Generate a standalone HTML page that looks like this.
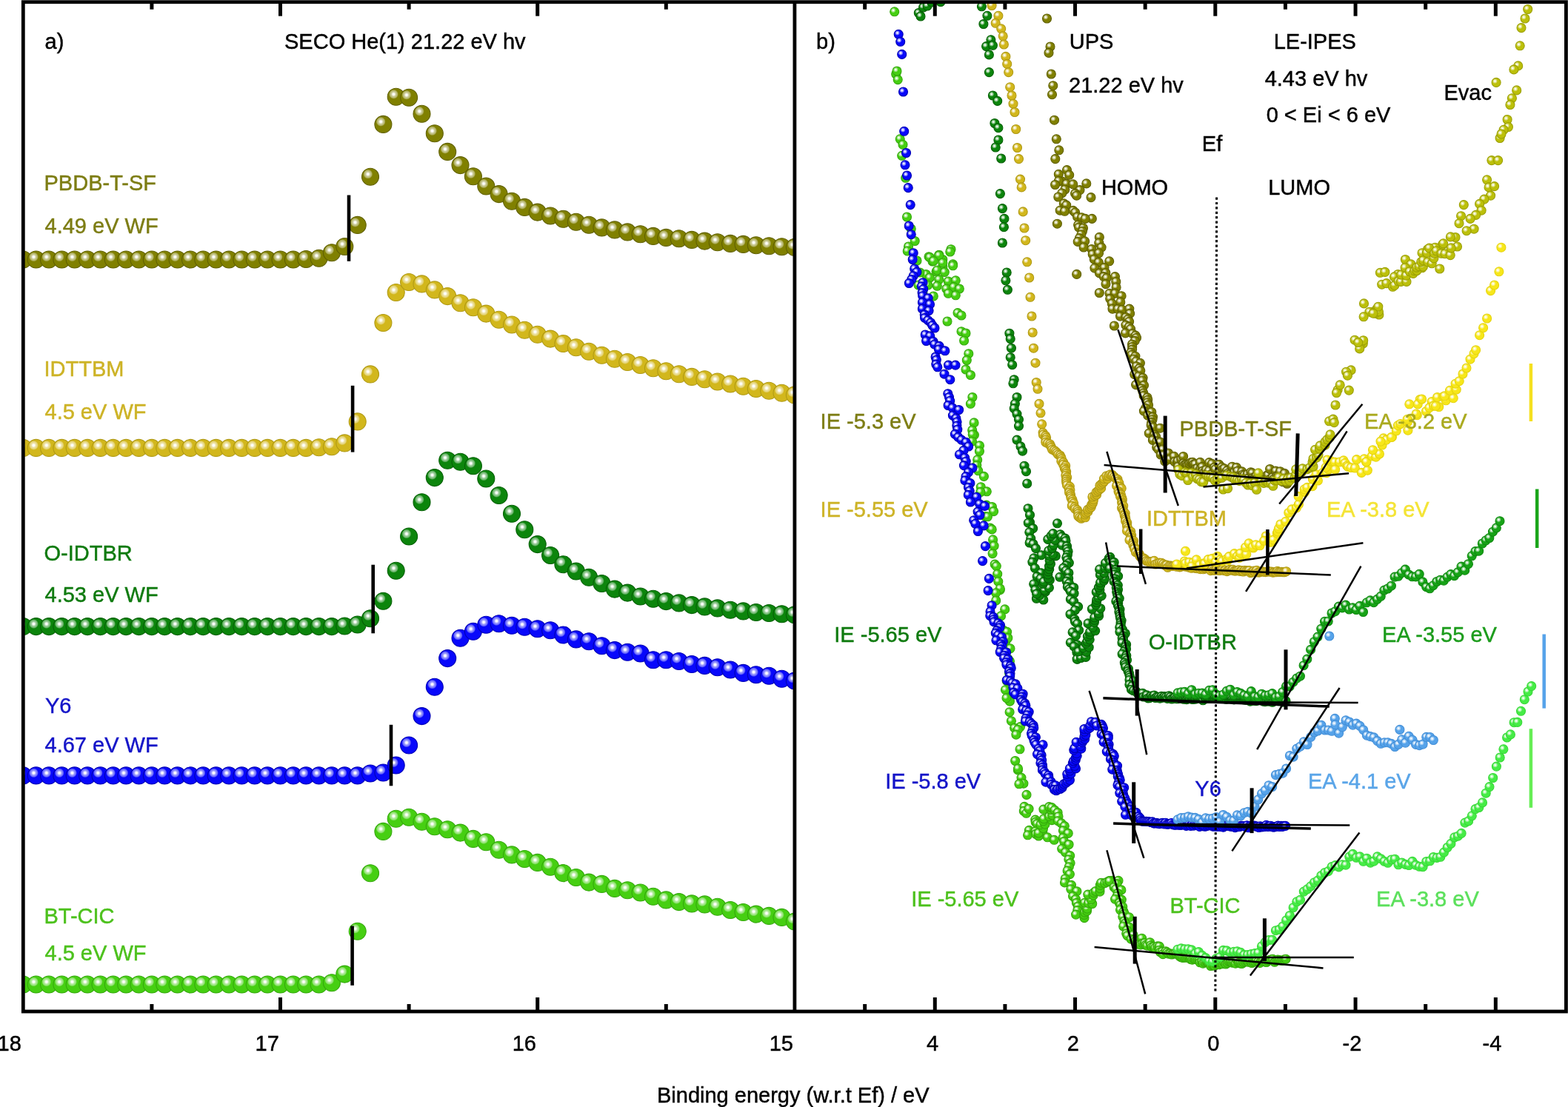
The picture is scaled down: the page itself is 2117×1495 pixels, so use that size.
<!DOCTYPE html><html><head><meta charset="utf-8"><title>SECO, UPS and LE-IPES spectra</title><style>html,body{margin:0;padding:0;background:#fff}svg{display:block}</style></head><body><svg width="2117" height="1495" viewBox="0 0 2117 1495" font-family="'Liberation Sans', sans-serif" font-size="29"><defs><radialGradient id="go1" cx="0.36" cy="0.345" r="0.68"><stop offset="0" stop-color="#fff"/><stop offset="0.07" stop-color="#fff"/><stop offset="0.2" stop-color="#cccc99"/><stop offset="0.33" stop-color="#b0b061"/><stop offset="0.41" stop-color="#808000"/><stop offset="1" stop-color="#808000"/></radialGradient><radialGradient id="go2" cx="0.36" cy="0.345" r="0.68"><stop offset="0" stop-color="#fff"/><stop offset="0.07" stop-color="#fff"/><stop offset="0.2" stop-color="#ede2a4"/><stop offset="0.33" stop-color="#e3d272"/><stop offset="0.41" stop-color="#d2b71c"/><stop offset="1" stop-color="#d2b71c"/></radialGradient><radialGradient id="go3" cx="0.36" cy="0.345" r="0.68"><stop offset="0" stop-color="#fff"/><stop offset="0.07" stop-color="#fff"/><stop offset="0.2" stop-color="#9ece9e"/><stop offset="0.33" stop-color="#68b368"/><stop offset="0.41" stop-color="#0c850c"/><stop offset="1" stop-color="#0c850c"/></radialGradient><radialGradient id="go4" cx="0.36" cy="0.345" r="0.68"><stop offset="0" stop-color="#fff"/><stop offset="0.07" stop-color="#fff"/><stop offset="0.2" stop-color="#9c9cfd"/><stop offset="0.33" stop-color="#6666fd"/><stop offset="0.41" stop-color="#0808fb"/><stop offset="1" stop-color="#0808fb"/></radialGradient><radialGradient id="go5" cx="0.36" cy="0.345" r="0.68"><stop offset="0" stop-color="#fff"/><stop offset="0.07" stop-color="#fff"/><stop offset="0.2" stop-color="#b5eca0"/><stop offset="0.33" stop-color="#8ce16c"/><stop offset="0.41" stop-color="#46cf12"/><stop offset="1" stop-color="#46cf12"/></radialGradient><radialGradient id="gi1" cx="0.36" cy="0.345" r="0.68"><stop offset="0" stop-color="#fff"/><stop offset="0.07" stop-color="#fff"/><stop offset="0.2" stop-color="#e4e69d"/><stop offset="0.33" stop-color="#d5d867"/><stop offset="0.41" stop-color="#bcc00a"/><stop offset="1" stop-color="#bcc00a"/></radialGradient><radialGradient id="gi2" cx="0.36" cy="0.345" r="0.68"><stop offset="0" stop-color="#fff"/><stop offset="0.07" stop-color="#fff"/><stop offset="0.2" stop-color="#fcf5a3"/><stop offset="0.33" stop-color="#faf071"/><stop offset="0.41" stop-color="#f7e71a"/><stop offset="1" stop-color="#f7e71a"/></radialGradient><radialGradient id="gi3" cx="0.36" cy="0.345" r="0.68"><stop offset="0" stop-color="#fff"/><stop offset="0.07" stop-color="#fff"/><stop offset="0.2" stop-color="#a2daa2"/><stop offset="0.33" stop-color="#6fc66f"/><stop offset="0.41" stop-color="#17a317"/><stop offset="1" stop-color="#17a317"/></radialGradient><radialGradient id="gi4" cx="0.36" cy="0.345" r="0.68"><stop offset="0" stop-color="#fff"/><stop offset="0.07" stop-color="#fff"/><stop offset="0.2" stop-color="#bbdaf7"/><stop offset="0.33" stop-color="#96c6f2"/><stop offset="0.41" stop-color="#56a3ea"/><stop offset="1" stop-color="#56a3ea"/></radialGradient><radialGradient id="gi5" cx="0.36" cy="0.345" r="0.68"><stop offset="0" stop-color="#fff"/><stop offset="0.07" stop-color="#fff"/><stop offset="0.2" stop-color="#b5f7b5"/><stop offset="0.33" stop-color="#8cf38c"/><stop offset="0.41" stop-color="#46ec46"/><stop offset="1" stop-color="#46ec46"/></radialGradient><clipPath id="cl"><rect x="31.3" y="2.7" width="1041.6" height="1363.3"/></clipPath><clipPath id="cr"><rect x="1072.9" y="2.7" width="1041.5" height="1363.3"/></clipPath></defs><rect width="2117" height="1495" fill="#fff"/><g clip-path="url(#cl)"><g fill="url(#go1)" stroke="#606000" stroke-width="1.1"><circle cx="31.3" cy="350.5" r="11.5"/><circle cx="48.7" cy="350.5" r="11.5"/><circle cx="66.0" cy="350.5" r="11.5"/><circle cx="83.4" cy="350.5" r="11.5"/><circle cx="100.7" cy="350.5" r="11.5"/><circle cx="118.1" cy="350.5" r="11.5"/><circle cx="135.5" cy="350.5" r="11.5"/><circle cx="152.8" cy="350.5" r="11.5"/><circle cx="170.2" cy="350.5" r="11.5"/><circle cx="187.5" cy="350.5" r="11.5"/><circle cx="204.9" cy="350.5" r="11.5"/><circle cx="222.3" cy="350.5" r="11.5"/><circle cx="239.6" cy="350.5" r="11.5"/><circle cx="257.0" cy="350.5" r="11.5"/><circle cx="274.3" cy="350.5" r="11.5"/><circle cx="291.7" cy="350.5" r="11.5"/><circle cx="309.1" cy="350.5" r="11.5"/><circle cx="326.4" cy="350.5" r="11.5"/><circle cx="343.8" cy="350.5" r="11.5"/><circle cx="361.1" cy="350.5" r="11.5"/><circle cx="378.5" cy="350.5" r="11.5"/><circle cx="395.9" cy="350.5" r="11.5"/><circle cx="413.2" cy="350.0" r="11.5"/><circle cx="430.6" cy="348.8" r="11.5"/><circle cx="447.9" cy="341.2" r="11.5"/><circle cx="465.3" cy="333.0" r="11.5"/><circle cx="482.7" cy="303.9" r="11.5"/><circle cx="500.0" cy="238.7" r="11.5"/><circle cx="517.4" cy="167.9" r="11.5"/><circle cx="534.7" cy="130.8" r="11.5"/><circle cx="552.1" cy="131.8" r="11.5"/><circle cx="569.5" cy="153.8" r="11.5"/><circle cx="586.8" cy="180.3" r="11.5"/><circle cx="604.2" cy="204.9" r="11.5"/><circle cx="621.5" cy="223.1" r="11.5"/><circle cx="638.9" cy="238.3" r="11.5"/><circle cx="656.3" cy="251.5" r="11.5"/><circle cx="673.6" cy="262.1" r="11.5"/><circle cx="691.0" cy="271.7" r="11.5"/><circle cx="708.3" cy="279.9" r="11.5"/><circle cx="725.7" cy="286.6" r="11.5"/><circle cx="743.1" cy="291.5" r="11.5"/><circle cx="760.4" cy="295.8" r="11.5"/><circle cx="777.8" cy="299.8" r="11.5"/><circle cx="795.1" cy="303.8" r="11.5"/><circle cx="812.5" cy="307.4" r="11.5"/><circle cx="829.9" cy="310.4" r="11.5"/><circle cx="847.2" cy="313.4" r="11.5"/><circle cx="864.6" cy="316.3" r="11.5"/><circle cx="881.9" cy="318.9" r="11.5"/><circle cx="899.3" cy="320.9" r="11.5"/><circle cx="916.7" cy="322.3" r="11.5"/><circle cx="934.0" cy="323.9" r="11.5"/><circle cx="951.4" cy="325.6" r="11.5"/><circle cx="968.7" cy="327.2" r="11.5"/><circle cx="986.1" cy="328.9" r="11.5"/><circle cx="1003.5" cy="329.9" r="11.5"/><circle cx="1020.8" cy="331.2" r="11.5"/><circle cx="1038.2" cy="332.2" r="11.5"/><circle cx="1055.5" cy="333.2" r="11.5"/><circle cx="1072.9" cy="333.9" r="11.5"/></g><g fill="url(#go2)" stroke="#b09a14" stroke-width="1.1"><circle cx="31.3" cy="604.9" r="11.5"/><circle cx="48.7" cy="604.9" r="11.5"/><circle cx="66.0" cy="604.9" r="11.5"/><circle cx="83.4" cy="604.9" r="11.5"/><circle cx="100.7" cy="604.9" r="11.5"/><circle cx="118.1" cy="604.9" r="11.5"/><circle cx="135.5" cy="604.9" r="11.5"/><circle cx="152.8" cy="604.9" r="11.5"/><circle cx="170.2" cy="604.9" r="11.5"/><circle cx="187.5" cy="604.9" r="11.5"/><circle cx="204.9" cy="604.9" r="11.5"/><circle cx="222.3" cy="604.9" r="11.5"/><circle cx="239.6" cy="604.9" r="11.5"/><circle cx="257.0" cy="604.9" r="11.5"/><circle cx="274.3" cy="604.9" r="11.5"/><circle cx="291.7" cy="604.9" r="11.5"/><circle cx="309.1" cy="604.9" r="11.5"/><circle cx="326.4" cy="604.9" r="11.5"/><circle cx="343.8" cy="604.9" r="11.5"/><circle cx="361.1" cy="604.9" r="11.5"/><circle cx="378.5" cy="604.9" r="11.5"/><circle cx="395.9" cy="604.9" r="11.5"/><circle cx="413.2" cy="604.9" r="11.5"/><circle cx="430.6" cy="604.2" r="11.5"/><circle cx="447.9" cy="603.2" r="11.5"/><circle cx="465.3" cy="598.4" r="11.5"/><circle cx="482.7" cy="569.4" r="11.5"/><circle cx="500.0" cy="505.4" r="11.5"/><circle cx="517.4" cy="436.0" r="11.5"/><circle cx="534.7" cy="395.0" r="11.5"/><circle cx="552.1" cy="381.0" r="11.5"/><circle cx="569.5" cy="383.4" r="11.5"/><circle cx="586.8" cy="391.4" r="11.5"/><circle cx="604.2" cy="400.1" r="11.5"/><circle cx="621.5" cy="409.2" r="11.5"/><circle cx="638.9" cy="415.3" r="11.5"/><circle cx="656.3" cy="423.6" r="11.5"/><circle cx="673.6" cy="431.8" r="11.5"/><circle cx="691.0" cy="438.5" r="11.5"/><circle cx="708.3" cy="445.7" r="11.5"/><circle cx="725.7" cy="451.7" r="11.5"/><circle cx="743.1" cy="457.6" r="11.5"/><circle cx="760.4" cy="464.0" r="11.5"/><circle cx="777.8" cy="469.2" r="11.5"/><circle cx="795.1" cy="474.8" r="11.5"/><circle cx="812.5" cy="479.8" r="11.5"/><circle cx="829.9" cy="484.7" r="11.5"/><circle cx="847.2" cy="489.0" r="11.5"/><circle cx="864.6" cy="493.0" r="11.5"/><circle cx="881.9" cy="497.3" r="11.5"/><circle cx="899.3" cy="501.3" r="11.5"/><circle cx="916.7" cy="505.2" r="11.5"/><circle cx="934.0" cy="508.9" r="11.5"/><circle cx="951.4" cy="512.2" r="11.5"/><circle cx="968.7" cy="515.5" r="11.5"/><circle cx="986.1" cy="518.5" r="11.5"/><circle cx="1003.5" cy="521.8" r="11.5"/><circle cx="1020.8" cy="525.0" r="11.5"/><circle cx="1038.2" cy="527.7" r="11.5"/><circle cx="1055.5" cy="530.7" r="11.5"/><circle cx="1072.9" cy="533.4" r="11.5"/></g><g fill="url(#go3)" stroke="#066006" stroke-width="1.1"><circle cx="31.3" cy="846.1" r="11.5"/><circle cx="48.7" cy="846.1" r="11.5"/><circle cx="66.0" cy="846.1" r="11.5"/><circle cx="83.4" cy="846.1" r="11.5"/><circle cx="100.7" cy="846.1" r="11.5"/><circle cx="118.1" cy="846.1" r="11.5"/><circle cx="135.5" cy="846.1" r="11.5"/><circle cx="152.8" cy="846.1" r="11.5"/><circle cx="170.2" cy="846.1" r="11.5"/><circle cx="187.5" cy="846.1" r="11.5"/><circle cx="204.9" cy="846.1" r="11.5"/><circle cx="222.3" cy="846.1" r="11.5"/><circle cx="239.6" cy="846.1" r="11.5"/><circle cx="257.0" cy="846.1" r="11.5"/><circle cx="274.3" cy="846.1" r="11.5"/><circle cx="291.7" cy="846.1" r="11.5"/><circle cx="309.1" cy="846.1" r="11.5"/><circle cx="326.4" cy="846.1" r="11.5"/><circle cx="343.8" cy="846.1" r="11.5"/><circle cx="361.1" cy="846.1" r="11.5"/><circle cx="378.5" cy="846.1" r="11.5"/><circle cx="395.9" cy="846.1" r="11.5"/><circle cx="413.2" cy="846.1" r="11.5"/><circle cx="430.6" cy="846.1" r="11.5"/><circle cx="447.9" cy="846.1" r="11.5"/><circle cx="465.3" cy="845.5" r="11.5"/><circle cx="482.7" cy="843.5" r="11.5"/><circle cx="500.0" cy="835.3" r="11.5"/><circle cx="517.4" cy="811.8" r="11.5"/><circle cx="534.7" cy="770.8" r="11.5"/><circle cx="552.1" cy="724.5" r="11.5"/><circle cx="569.5" cy="678.2" r="11.5"/><circle cx="586.8" cy="645.1" r="11.5"/><circle cx="604.2" cy="621.7" r="11.5"/><circle cx="621.5" cy="623.7" r="11.5"/><circle cx="638.9" cy="629.3" r="11.5"/><circle cx="656.3" cy="646.5" r="11.5"/><circle cx="673.6" cy="669.0" r="11.5"/><circle cx="691.0" cy="693.8" r="11.5"/><circle cx="708.3" cy="715.2" r="11.5"/><circle cx="725.7" cy="735.1" r="11.5"/><circle cx="743.1" cy="750.0" r="11.5"/><circle cx="760.4" cy="762.2" r="11.5"/><circle cx="777.8" cy="771.5" r="11.5"/><circle cx="795.1" cy="779.7" r="11.5"/><circle cx="812.5" cy="788.0" r="11.5"/><circle cx="829.9" cy="795.6" r="11.5"/><circle cx="847.2" cy="800.6" r="11.5"/><circle cx="864.6" cy="805.5" r="11.5"/><circle cx="881.9" cy="808.8" r="11.5"/><circle cx="899.3" cy="812.1" r="11.5"/><circle cx="916.7" cy="814.4" r="11.5"/><circle cx="934.0" cy="817.1" r="11.5"/><circle cx="951.4" cy="819.4" r="11.5"/><circle cx="968.7" cy="821.4" r="11.5"/><circle cx="986.1" cy="823.7" r="11.5"/><circle cx="1003.5" cy="825.4" r="11.5"/><circle cx="1020.8" cy="827.0" r="11.5"/><circle cx="1038.2" cy="828.0" r="11.5"/><circle cx="1055.5" cy="829.3" r="11.5"/><circle cx="1072.9" cy="830.3" r="11.5"/></g><g fill="url(#go4)" stroke="#0000b4" stroke-width="1.1"><circle cx="31.3" cy="1047.4" r="11.5"/><circle cx="48.7" cy="1047.4" r="11.5"/><circle cx="66.0" cy="1047.4" r="11.5"/><circle cx="83.4" cy="1047.4" r="11.5"/><circle cx="100.7" cy="1047.4" r="11.5"/><circle cx="118.1" cy="1047.4" r="11.5"/><circle cx="135.5" cy="1047.4" r="11.5"/><circle cx="152.8" cy="1047.4" r="11.5"/><circle cx="170.2" cy="1047.4" r="11.5"/><circle cx="187.5" cy="1047.4" r="11.5"/><circle cx="204.9" cy="1047.4" r="11.5"/><circle cx="222.3" cy="1047.4" r="11.5"/><circle cx="239.6" cy="1047.4" r="11.5"/><circle cx="257.0" cy="1047.4" r="11.5"/><circle cx="274.3" cy="1047.4" r="11.5"/><circle cx="291.7" cy="1047.4" r="11.5"/><circle cx="309.1" cy="1047.4" r="11.5"/><circle cx="326.4" cy="1047.4" r="11.5"/><circle cx="343.8" cy="1047.4" r="11.5"/><circle cx="361.1" cy="1047.4" r="11.5"/><circle cx="378.5" cy="1047.4" r="11.5"/><circle cx="395.9" cy="1047.4" r="11.5"/><circle cx="413.2" cy="1047.4" r="11.5"/><circle cx="430.6" cy="1047.4" r="11.5"/><circle cx="447.9" cy="1047.4" r="11.5"/><circle cx="465.3" cy="1047.4" r="11.5"/><circle cx="482.7" cy="1047.4" r="11.5"/><circle cx="500.0" cy="1044.5" r="11.5"/><circle cx="517.4" cy="1043.5" r="11.5"/><circle cx="534.7" cy="1033.5" r="11.5"/><circle cx="552.1" cy="1006.5" r="11.5"/><circle cx="569.5" cy="967.1" r="11.5"/><circle cx="586.8" cy="927.7" r="11.5"/><circle cx="604.2" cy="889.1" r="11.5"/><circle cx="621.5" cy="861.7" r="11.5"/><circle cx="638.9" cy="852.8" r="11.5"/><circle cx="656.3" cy="843.8" r="11.5"/><circle cx="673.6" cy="842.2" r="11.5"/><circle cx="691.0" cy="844.8" r="11.5"/><circle cx="708.3" cy="846.8" r="11.5"/><circle cx="725.7" cy="849.3" r="11.5"/><circle cx="743.1" cy="851.2" r="11.5"/><circle cx="760.4" cy="857.5" r="11.5"/><circle cx="777.8" cy="863.4" r="11.5"/><circle cx="795.1" cy="866.2" r="11.5"/><circle cx="812.5" cy="872.2" r="11.5"/><circle cx="829.9" cy="878.1" r="11.5"/><circle cx="847.2" cy="880.8" r="11.5"/><circle cx="864.6" cy="882.5" r="11.5"/><circle cx="881.9" cy="891.3" r="11.5"/><circle cx="899.3" cy="891.3" r="11.5"/><circle cx="916.7" cy="893.0" r="11.5"/><circle cx="934.0" cy="897.0" r="11.5"/><circle cx="951.4" cy="898.9" r="11.5"/><circle cx="968.7" cy="901.3" r="11.5"/><circle cx="986.1" cy="904.5" r="11.5"/><circle cx="1003.5" cy="908.9" r="11.5"/><circle cx="1020.8" cy="911.2" r="11.5"/><circle cx="1038.2" cy="912.8" r="11.5"/><circle cx="1055.5" cy="916.8" r="11.5"/><circle cx="1072.9" cy="919.5" r="11.5"/></g><g fill="url(#go5)" stroke="#34a80c" stroke-width="1.1"><circle cx="31.3" cy="1329.5" r="11.5"/><circle cx="48.7" cy="1329.5" r="11.5"/><circle cx="66.0" cy="1329.5" r="11.5"/><circle cx="83.4" cy="1329.5" r="11.5"/><circle cx="100.7" cy="1329.5" r="11.5"/><circle cx="118.1" cy="1329.5" r="11.5"/><circle cx="135.5" cy="1329.5" r="11.5"/><circle cx="152.8" cy="1329.5" r="11.5"/><circle cx="170.2" cy="1329.5" r="11.5"/><circle cx="187.5" cy="1329.5" r="11.5"/><circle cx="204.9" cy="1329.5" r="11.5"/><circle cx="222.3" cy="1329.5" r="11.5"/><circle cx="239.6" cy="1329.5" r="11.5"/><circle cx="257.0" cy="1329.5" r="11.5"/><circle cx="274.3" cy="1329.5" r="11.5"/><circle cx="291.7" cy="1329.5" r="11.5"/><circle cx="309.1" cy="1329.5" r="11.5"/><circle cx="326.4" cy="1329.5" r="11.5"/><circle cx="343.8" cy="1329.5" r="11.5"/><circle cx="361.1" cy="1329.5" r="11.5"/><circle cx="378.5" cy="1329.5" r="11.5"/><circle cx="395.9" cy="1329.5" r="11.5"/><circle cx="413.2" cy="1329.5" r="11.5"/><circle cx="430.6" cy="1329.5" r="11.5"/><circle cx="447.9" cy="1327.2" r="11.5"/><circle cx="465.3" cy="1315.6" r="11.5"/><circle cx="482.7" cy="1257.8" r="11.5"/><circle cx="500.0" cy="1179.2" r="11.5"/><circle cx="517.4" cy="1122.9" r="11.5"/><circle cx="534.7" cy="1105.7" r="11.5"/><circle cx="552.1" cy="1103.8" r="11.5"/><circle cx="569.5" cy="1109.7" r="11.5"/><circle cx="586.8" cy="1116.3" r="11.5"/><circle cx="604.2" cy="1120.3" r="11.5"/><circle cx="621.5" cy="1124.6" r="11.5"/><circle cx="638.9" cy="1132.9" r="11.5"/><circle cx="656.3" cy="1137.2" r="11.5"/><circle cx="673.6" cy="1147.7" r="11.5"/><circle cx="691.0" cy="1154.4" r="11.5"/><circle cx="708.3" cy="1160.0" r="11.5"/><circle cx="725.7" cy="1164.9" r="11.5"/><circle cx="743.1" cy="1170.8" r="11.5"/><circle cx="760.4" cy="1179.1" r="11.5"/><circle cx="777.8" cy="1185.0" r="11.5"/><circle cx="795.1" cy="1191.6" r="11.5"/><circle cx="812.5" cy="1193.9" r="11.5"/><circle cx="829.9" cy="1199.9" r="11.5"/><circle cx="847.2" cy="1202.2" r="11.5"/><circle cx="864.6" cy="1205.5" r="11.5"/><circle cx="881.9" cy="1210.8" r="11.5"/><circle cx="899.3" cy="1215.4" r="11.5"/><circle cx="916.7" cy="1218.1" r="11.5"/><circle cx="934.0" cy="1220.4" r="11.5"/><circle cx="951.4" cy="1221.4" r="11.5"/><circle cx="968.7" cy="1224.7" r="11.5"/><circle cx="986.1" cy="1229.0" r="11.5"/><circle cx="1003.5" cy="1232.0" r="11.5"/><circle cx="1020.8" cy="1234.6" r="11.5"/><circle cx="1038.2" cy="1236.9" r="11.5"/><circle cx="1055.5" cy="1238.9" r="11.5"/><circle cx="1072.9" cy="1244.5" r="11.5"/></g></g><g clip-path="url(#cr)"><g fill="url(#go5)" stroke="#34a80c" stroke-width="1.1"><circle cx="1207.7" cy="15.8" r="6.0"/><circle cx="1209.7" cy="100.0" r="6.0"/><circle cx="1212.2" cy="107.6" r="6.0"/><circle cx="1211.0" cy="96.0" r="6.0"/><circle cx="1215.2" cy="187.8" r="6.0"/><circle cx="1219.0" cy="195.3" r="6.0"/><circle cx="1217.7" cy="210.3" r="6.0"/><circle cx="1222.7" cy="240.3" r="6.0"/><circle cx="1224.5" cy="293.0" r="6.0"/><circle cx="1230.2" cy="309.0" r="6.0"/><circle cx="1235.2" cy="325.5" r="6.0"/><circle cx="1226.5" cy="333.0" r="6.0"/><circle cx="1225.2" cy="339.0" r="6.0"/><circle cx="1254.0" cy="346.7" r="6.0"/><circle cx="1259.0" cy="353.0" r="6.0"/><circle cx="1267.8" cy="344.2" r="6.0"/><circle cx="1272.8" cy="350.5" r="6.0"/><circle cx="1284.0" cy="336.7" r="6.0"/><circle cx="1286.6" cy="356.8" r="6.0"/><circle cx="1272.8" cy="360.5" r="6.0"/><circle cx="1264.0" cy="366.8" r="6.0"/><circle cx="1250.3" cy="370.5" r="6.0"/><circle cx="1255.3" cy="347.5" r="6.0"/><circle cx="1267.8" cy="345.0" r="6.0"/><circle cx="1282.8" cy="340.0" r="6.0"/><circle cx="1260.3" cy="352.5" r="6.0"/><circle cx="1272.8" cy="355.0" r="6.0"/><circle cx="1286.6" cy="358.8" r="6.0"/><circle cx="1265.3" cy="365.0" r="6.0"/><circle cx="1275.3" cy="367.5" r="6.0"/><circle cx="1255.3" cy="375.0" r="6.0"/><circle cx="1267.8" cy="377.6" r="6.0"/><circle cx="1280.3" cy="380.0" r="6.0"/><circle cx="1290.3" cy="378.8" r="6.0"/><circle cx="1252.8" cy="385.0" r="6.0"/><circle cx="1265.3" cy="386.3" r="6.0"/><circle cx="1277.8" cy="390.0" r="6.0"/><circle cx="1287.8" cy="387.6" r="6.0"/><circle cx="1295.3" cy="390.0" r="6.0"/><circle cx="1280.3" cy="396.3" r="6.0"/><circle cx="1290.3" cy="398.8" r="6.0"/><circle cx="1260.3" cy="400.0" r="6.0"/><circle cx="1238.0" cy="352.0" r="6.0"/><circle cx="1242.0" cy="368.0" r="6.0"/><circle cx="1240.0" cy="385.0" r="6.0"/><circle cx="1246.0" cy="395.0" r="6.0"/><circle cx="1293.0" cy="422.6" r="6.0"/><circle cx="1298.0" cy="426.0" r="6.0"/><circle cx="1279.0" cy="434.0" r="6.0"/><circle cx="1298.0" cy="447.7" r="6.0"/><circle cx="1304.0" cy="450.0" r="6.0"/><circle cx="1301.6" cy="460.0" r="6.0"/><circle cx="1307.8" cy="477.7" r="6.0"/><circle cx="1305.3" cy="486.5" r="6.0"/><circle cx="1304.0" cy="499.0" r="6.0"/><circle cx="1310.4" cy="506.5" r="6.0"/><circle cx="1312.9" cy="536.5" r="6.0"/><circle cx="1310.4" cy="545.3" r="6.0"/><circle cx="1315.1" cy="570.9" r="6.0"/><circle cx="1312.7" cy="581.0" r="6.0"/><circle cx="1315.4" cy="587.3" r="6.0"/><circle cx="1313.2" cy="586.8" r="6.0"/><circle cx="1312.4" cy="596.2" r="6.0"/><circle cx="1322.5" cy="601.8" r="6.0"/><circle cx="1322.4" cy="609.5" r="6.0"/><circle cx="1319.7" cy="620.9" r="6.0"/><circle cx="1318.8" cy="628.5" r="6.0"/><circle cx="1320.8" cy="635.8" r="6.0"/><circle cx="1328.4" cy="643.4" r="6.0"/><circle cx="1324.3" cy="657.7" r="6.0"/><circle cx="1332.3" cy="663.8" r="6.0"/><circle cx="1323.9" cy="664.5" r="6.0"/><circle cx="1331.8" cy="682.1" r="6.0"/><circle cx="1339.4" cy="684.5" r="6.0"/><circle cx="1341.6" cy="690.6" r="6.0"/><circle cx="1330.4" cy="697.6" r="6.0"/><circle cx="1333.4" cy="697.8" r="6.0"/><circle cx="1337.0" cy="713.1" r="6.0"/><circle cx="1339.2" cy="714.9" r="6.0"/><circle cx="1340.6" cy="728.9" r="6.0"/><circle cx="1342.1" cy="737.2" r="6.0"/><circle cx="1340.1" cy="747.6" r="6.0"/><circle cx="1343.2" cy="762.1" r="6.0"/><circle cx="1345.3" cy="764.6" r="6.0"/><circle cx="1346.7" cy="775.2" r="6.0"/><circle cx="1347.8" cy="785.3" r="6.0"/><circle cx="1350.3" cy="796.7" r="6.0"/><circle cx="1350.2" cy="794.8" r="6.0"/><circle cx="1344.6" cy="800.8" r="6.0"/><circle cx="1344.7" cy="811.0" r="6.0"/><circle cx="1356.7" cy="822.9" r="6.0"/><circle cx="1351.5" cy="831.9" r="6.0"/><circle cx="1355.1" cy="851.4" r="6.0"/><circle cx="1359.6" cy="853.3" r="6.0"/><circle cx="1358.1" cy="865.5" r="6.0"/><circle cx="1360.8" cy="861.5" r="6.0"/><circle cx="1364.0" cy="875.8" r="6.0"/><circle cx="1361.2" cy="890.0" r="6.0"/><circle cx="1363.4" cy="893.0" r="6.0"/><circle cx="1362.6" cy="909.0" r="6.0"/><circle cx="1359.2" cy="919.5" r="6.0"/><circle cx="1357.5" cy="931.7" r="6.0"/><circle cx="1361.4" cy="942.1" r="6.0"/><circle cx="1363.4" cy="947.2" r="6.0"/><circle cx="1359.0" cy="942.7" r="6.0"/><circle cx="1365.4" cy="973.7" r="6.0"/><circle cx="1363.1" cy="961.7" r="6.0"/><circle cx="1377.5" cy="981.6" r="6.0"/><circle cx="1369.7" cy="983.2" r="6.0"/><circle cx="1374.3" cy="985.3" r="6.0"/><circle cx="1371.9" cy="992.2" r="6.0"/><circle cx="1377.0" cy="1011.8" r="6.0"/><circle cx="1370.7" cy="1027.5" r="6.0"/><circle cx="1374.4" cy="1039.9" r="6.0"/><circle cx="1374.5" cy="1037.9" r="6.0"/><circle cx="1379.0" cy="1050.3" r="6.0"/><circle cx="1381.9" cy="1058.2" r="6.0"/><circle cx="1375.9" cy="1058.8" r="6.0"/><circle cx="1386.0" cy="1073.4" r="6.0"/><circle cx="1383.0" cy="1089.4" r="6.0"/><circle cx="1382.3" cy="1095.3" r="6.0"/><circle cx="1385.7" cy="1098.3" r="6.0"/><circle cx="1389.1" cy="1092.3" r="6.0"/><circle cx="1397.8" cy="1107.1" r="6.0"/><circle cx="1398.2" cy="1110.3" r="6.0"/><circle cx="1400.2" cy="1112.6" r="6.0"/><circle cx="1389.4" cy="1121.4" r="6.0"/><circle cx="1387.6" cy="1127.8" r="6.0"/><circle cx="1398.0" cy="1122.7" r="6.0"/><circle cx="1398.4" cy="1126.4" r="6.0"/><circle cx="1407.9" cy="1122.0" r="6.0"/><circle cx="1402.3" cy="1129.0" r="6.0"/><circle cx="1402.1" cy="1125.0" r="6.0"/><circle cx="1414.2" cy="1130.8" r="6.0"/><circle cx="1423.3" cy="1134.3" r="6.0"/><circle cx="1408.5" cy="1118.7" r="6.0"/><circle cx="1404.9" cy="1113.7" r="6.0"/><circle cx="1410.9" cy="1113.2" r="6.0"/><circle cx="1408.5" cy="1108.8" r="6.0"/><circle cx="1409.3" cy="1105.8" r="6.0"/><circle cx="1420.2" cy="1107.6" r="6.0"/><circle cx="1416.5" cy="1102.6" r="6.0"/><circle cx="1420.7" cy="1101.0" r="6.0"/><circle cx="1408.9" cy="1093.1" r="6.0"/><circle cx="1418.9" cy="1093.8" r="6.0"/><circle cx="1416.5" cy="1089.6" r="6.0"/><circle cx="1420.0" cy="1090.6" r="6.0"/><circle cx="1424.0" cy="1094.1" r="6.0"/><circle cx="1428.1" cy="1097.5" r="6.0"/><circle cx="1429.0" cy="1102.7" r="6.0"/><circle cx="1428.4" cy="1108.7" r="6.0"/><circle cx="1433.1" cy="1111.9" r="6.0"/><circle cx="1437.3" cy="1115.6" r="6.0"/><circle cx="1435.4" cy="1121.8" r="6.0"/><circle cx="1442.2" cy="1125.4" r="6.0"/><circle cx="1435.2" cy="1131.5" r="6.0"/><circle cx="1436.7" cy="1136.4" r="6.0"/><circle cx="1443.1" cy="1140.5" r="6.0"/><circle cx="1433.7" cy="1146.3" r="6.0"/><circle cx="1438.6" cy="1151.0" r="6.0"/><circle cx="1444.7" cy="1155.6" r="6.0"/><circle cx="1442.9" cy="1160.7" r="6.0"/><circle cx="1445.1" cy="1165.6" r="6.0"/><circle cx="1443.3" cy="1170.7" r="6.0"/><circle cx="1441.1" cy="1175.9" r="6.0"/><circle cx="1444.4" cy="1180.6" r="6.0"/><circle cx="1438.2" cy="1186.7" r="6.0"/><circle cx="1437.5" cy="1191.9" r="6.0"/><circle cx="1446.5" cy="1195.4" r="6.0"/><circle cx="1445.8" cy="1200.8" r="6.0"/><circle cx="1453.9" cy="1203.7" r="6.0"/><circle cx="1448.6" cy="1210.4" r="6.0"/><circle cx="1452.4" cy="1214.5" r="6.0"/><circle cx="1453.4" cy="1219.4" r="6.0"/><circle cx="1455.4" cy="1224.1" r="6.0"/><circle cx="1454.8" cy="1229.4" r="6.0"/><circle cx="1452.6" cy="1235.1" r="6.0"/><circle cx="1464.0" cy="1239.6" r="6.0"/><circle cx="1463.7" cy="1235.4" r="6.0"/><circle cx="1464.6" cy="1232.1" r="6.0"/><circle cx="1467.5" cy="1230.3" r="6.0"/><circle cx="1467.8" cy="1227.2" r="6.0"/><circle cx="1464.5" cy="1219.2" r="6.0"/><circle cx="1469.5" cy="1219.7" r="6.0"/><circle cx="1474.7" cy="1220.5" r="6.0"/><circle cx="1473.1" cy="1214.8" r="6.0"/><circle cx="1468.8" cy="1208.1" r="6.0"/><circle cx="1476.1" cy="1209.1" r="6.0"/><circle cx="1476.7" cy="1205.6" r="6.0"/><circle cx="1479.3" cy="1203.5" r="6.0"/><circle cx="1485.0" cy="1204.1" r="6.0"/><circle cx="1485.1" cy="1199.7" r="6.0"/><circle cx="1485.3" cy="1195.3" r="6.0"/><circle cx="1486.7" cy="1192.2" r="6.0"/><circle cx="1491.7" cy="1192.6" r="6.0"/><circle cx="1494.8" cy="1191.1" r="6.0"/><circle cx="1497.6" cy="1189.6" r="6.0"/><circle cx="1501.1" cy="1189.4" r="6.0"/><circle cx="1498.1" cy="1190.0" r="6.0"/><circle cx="1510.0" cy="1189.4" r="6.0"/><circle cx="1508.0" cy="1193.5" r="6.0"/><circle cx="1504.1" cy="1198.2" r="6.0"/><circle cx="1506.6" cy="1200.7" r="6.0"/><circle cx="1513.9" cy="1201.9" r="6.0"/><circle cx="1509.3" cy="1206.6" r="6.0"/><circle cx="1508.2" cy="1210.2" r="6.0"/><circle cx="1505.6" cy="1214.3" r="6.0"/><circle cx="1514.3" cy="1215.1" r="6.0"/><circle cx="1511.3" cy="1219.3" r="6.0"/><circle cx="1512.8" cy="1222.2" r="6.0"/><circle cx="1515.8" cy="1224.7" r="6.0"/><circle cx="1512.5" cy="1228.8" r="6.0"/><circle cx="1517.1" cy="1231.0" r="6.0"/><circle cx="1518.2" cy="1234.0" r="6.0"/><circle cx="1515.8" cy="1237.9" r="6.0"/><circle cx="1524.6" cy="1238.8" r="6.0"/><circle cx="1517.9" cy="1244.0" r="6.0"/><circle cx="1519.3" cy="1247.0" r="6.0"/><circle cx="1516.7" cy="1251.0" r="6.0"/><circle cx="1524.5" cy="1252.1" r="6.0"/><circle cx="1521.6" cy="1256.3" r="6.0"/><circle cx="1520.7" cy="1260.8" r="6.0"/><circle cx="1522.1" cy="1263.7" r="6.0"/><circle cx="1530.1" cy="1262.7" r="6.0"/><circle cx="1527.1" cy="1268.2" r="6.0"/><circle cx="1531.6" cy="1269.2" r="6.0"/><circle cx="1533.6" cy="1270.3" r="6.0"/><circle cx="1535.2" cy="1275.2" r="6.0"/><circle cx="1541.6" cy="1267.2" r="6.0"/><circle cx="1540.1" cy="1275.9" r="6.0"/><circle cx="1542.9" cy="1274.2" r="6.0"/><circle cx="1545.5" cy="1273.5" r="6.0"/><circle cx="1546.9" cy="1276.3" r="6.0"/><circle cx="1548.9" cy="1277.1" r="6.0"/><circle cx="1552.6" cy="1272.7" r="6.0"/><circle cx="1553.6" cy="1276.9" r="6.0"/><circle cx="1555.2" cy="1279.1" r="6.0"/><circle cx="1557.6" cy="1278.8" r="6.0"/><circle cx="1559.5" cy="1280.3" r="6.0"/><circle cx="1562.9" cy="1277.9" r="6.0"/><circle cx="1565.3" cy="1278.1" r="6.0"/><circle cx="1565.3" cy="1283.2" r="6.0"/><circle cx="1566.5" cy="1285.9" r="6.0"/><circle cx="1569.2" cy="1285.3" r="6.0"/><circle cx="1570.1" cy="1288.6" r="6.0"/><circle cx="1574.0" cy="1284.7" r="6.0"/><circle cx="1575.9" cy="1286.1" r="6.0"/><circle cx="1577.7" cy="1288.1" r="6.0"/><circle cx="1580.0" cy="1287.8" r="6.0"/><circle cx="1582.0" cy="1289.0" r="6.0"/><circle cx="1584.5" cy="1288.1" r="6.0"/><circle cx="1586.9" cy="1287.7" r="6.0"/><circle cx="1589.0" cy="1288.4" r="6.0"/><circle cx="1591.3" cy="1287.9" r="6.0"/><circle cx="1592.7" cy="1291.5" r="6.0"/><circle cx="1594.7" cy="1292.8" r="6.0"/><circle cx="1596.8" cy="1293.4" r="6.0"/><circle cx="1599.1" cy="1293.2" r="6.0"/><circle cx="1601.4" cy="1293.2" r="6.0"/><circle cx="1603.7" cy="1292.8" r="6.0"/><circle cx="1606.0" cy="1292.9" r="6.0"/><circle cx="1607.6" cy="1295.5" r="6.0"/><circle cx="1609.7" cy="1296.2" r="6.0"/><circle cx="1612.2" cy="1295.2" r="6.0"/><circle cx="1614.3" cy="1295.7" r="6.0"/><circle cx="1616.7" cy="1295.5" r="6.0"/><circle cx="1619.1" cy="1295.3" r="6.0"/><circle cx="1620.0" cy="1299.8" r="6.0"/><circle cx="1622.7" cy="1298.5" r="6.0"/><circle cx="1624.2" cy="1301.1" r="6.0"/><circle cx="1626.9" cy="1299.8" r="6.0"/><circle cx="1629.4" cy="1299.3" r="6.0"/><circle cx="1631.4" cy="1300.2" r="6.0"/><circle cx="1633.7" cy="1300.1" r="6.0"/><circle cx="1634.6" cy="1304.5" r="6.0"/><circle cx="1637.5" cy="1303.6" r="6.0"/><circle cx="1639.8" cy="1304.3" r="6.0"/><circle cx="1641.7" cy="1301.9" r="6.0"/><circle cx="1644.0" cy="1302.1" r="6.0"/><circle cx="1646.2" cy="1302.6" r="6.0"/><circle cx="1648.2" cy="1300.9" r="6.0"/><circle cx="1650.6" cy="1301.7" r="6.0"/><circle cx="1652.5" cy="1299.2" r="6.0"/><circle cx="1655.0" cy="1302.0" r="6.0"/><circle cx="1657.1" cy="1300.5" r="6.0"/><circle cx="1659.0" cy="1298.6" r="6.0"/><circle cx="1661.4" cy="1299.1" r="6.0"/><circle cx="1663.6" cy="1300.2" r="6.0"/><circle cx="1665.8" cy="1299.6" r="6.0"/><circle cx="1668.1" cy="1301.2" r="6.0"/><circle cx="1670.1" cy="1296.8" r="6.0"/><circle cx="1672.4" cy="1300.5" r="6.0"/><circle cx="1674.7" cy="1301.1" r="6.0"/><circle cx="1676.9" cy="1301.4" r="6.0"/><circle cx="1679.0" cy="1299.9" r="6.0"/><circle cx="1681.2" cy="1298.8" r="6.0"/><circle cx="1683.4" cy="1297.9" r="6.0"/><circle cx="1685.6" cy="1299.3" r="6.0"/><circle cx="1687.7" cy="1297.8" r="6.0"/><circle cx="1690.1" cy="1300.5" r="6.0"/><circle cx="1692.2" cy="1299.3" r="6.0"/><circle cx="1694.4" cy="1298.5" r="6.0"/><circle cx="1696.5" cy="1297.1" r="6.0"/><circle cx="1698.8" cy="1298.8" r="6.0"/><circle cx="1701.1" cy="1300.4" r="6.0"/><circle cx="1703.1" cy="1297.6" r="6.0"/><circle cx="1705.3" cy="1297.2" r="6.0"/><circle cx="1707.6" cy="1298.9" r="6.0"/><circle cx="1709.9" cy="1299.5" r="6.0"/><circle cx="1712.0" cy="1297.7" r="6.0"/><circle cx="1714.1" cy="1296.5" r="6.0"/><circle cx="1716.3" cy="1295.7" r="6.0"/><circle cx="1718.4" cy="1295.3" r="6.0"/><circle cx="1720.9" cy="1299.3" r="6.0"/><circle cx="1723.0" cy="1297.5" r="6.0"/><circle cx="1725.1" cy="1296.0" r="6.0"/><circle cx="1727.3" cy="1296.6" r="6.0"/><circle cx="1729.6" cy="1297.3" r="6.0"/><circle cx="1731.8" cy="1297.2" r="6.0"/><circle cx="1733.9" cy="1295.9" r="6.0"/><circle cx="1736.1" cy="1295.2" r="6.0"/></g><g fill="url(#go4)" stroke="#0000b4" stroke-width="1.1"><circle cx="1213.2" cy="46.3" r="6.0"/><circle cx="1215.7" cy="56.3" r="6.0"/><circle cx="1217.7" cy="73.4" r="6.0"/><circle cx="1219.5" cy="124.0" r="6.0"/><circle cx="1220.7" cy="177.3" r="6.0"/><circle cx="1223.5" cy="206.5" r="6.0"/><circle cx="1222.0" cy="222.8" r="6.0"/><circle cx="1224.5" cy="237.0" r="6.0"/><circle cx="1226.2" cy="253.6" r="6.0"/><circle cx="1229.2" cy="276.6" r="6.0"/><circle cx="1227.2" cy="305.0" r="6.0"/><circle cx="1230.2" cy="316.7" r="6.0"/><circle cx="1233.2" cy="341.7" r="6.0"/><circle cx="1232.2" cy="350.5" r="6.0"/><circle cx="1234.7" cy="363.0" r="6.0"/><circle cx="1237.9" cy="367.4" r="6.0"/><circle cx="1233.2" cy="372.7" r="6.0"/><circle cx="1230.8" cy="377.5" r="6.0"/><circle cx="1227.4" cy="382.5" r="6.0"/><circle cx="1246.0" cy="381.7" r="6.0"/><circle cx="1244.2" cy="386.8" r="6.0"/><circle cx="1246.7" cy="390.4" r="6.0"/><circle cx="1245.1" cy="395.5" r="6.0"/><circle cx="1245.7" cy="399.7" r="6.0"/><circle cx="1253.2" cy="402.7" r="6.0"/><circle cx="1245.4" cy="408.4" r="6.0"/><circle cx="1255.5" cy="410.9" r="6.0"/><circle cx="1245.3" cy="417.0" r="6.0"/><circle cx="1254.1" cy="419.6" r="6.0"/><circle cx="1248.2" cy="425.0" r="6.0"/><circle cx="1248.6" cy="429.4" r="6.0"/><circle cx="1252.9" cy="432.6" r="6.0"/><circle cx="1256.7" cy="435.8" r="6.0"/><circle cx="1258.9" cy="439.5" r="6.0"/><circle cx="1262.0" cy="443.0" r="6.0"/><circle cx="1249.2" cy="452.0" r="6.0"/><circle cx="1255.8" cy="453.9" r="6.0"/><circle cx="1250.6" cy="460.5" r="6.0"/><circle cx="1260.0" cy="461.2" r="6.0"/><circle cx="1261.8" cy="465.1" r="6.0"/><circle cx="1268.1" cy="467.4" r="6.0"/><circle cx="1267.5" cy="471.9" r="6.0"/><circle cx="1275.9" cy="473.8" r="6.0"/><circle cx="1263.1" cy="482.0" r="6.0"/><circle cx="1264.3" cy="486.1" r="6.0"/><circle cx="1263.8" cy="492.1" r="6.0"/><circle cx="1265.8" cy="495.8" r="6.0"/><circle cx="1280.5" cy="493.1" r="6.0"/><circle cx="1290.0" cy="493.1" r="6.0"/><circle cx="1275.0" cy="505.2" r="6.0"/><circle cx="1282.8" cy="512.7" r="6.0"/><circle cx="1279.8" cy="531.7" r="6.0"/><circle cx="1281.5" cy="536.4" r="6.0"/><circle cx="1282.7" cy="541.3" r="6.0"/><circle cx="1280.1" cy="547.5" r="6.0"/><circle cx="1286.0" cy="550.8" r="6.0"/><circle cx="1294.6" cy="553.5" r="6.0"/><circle cx="1286.4" cy="561.1" r="6.0"/><circle cx="1290.9" cy="565.0" r="6.0"/><circle cx="1292.1" cy="569.8" r="6.0"/><circle cx="1291.9" cy="575.1" r="6.0"/><circle cx="1292.8" cy="580.1" r="6.0"/><circle cx="1289.4" cy="586.4" r="6.0"/><circle cx="1293.7" cy="590.4" r="6.0"/><circle cx="1298.2" cy="594.1" r="6.0"/><circle cx="1304.3" cy="597.3" r="6.0"/><circle cx="1307.6" cy="603.0" r="6.0"/><circle cx="1301.0" cy="608.4" r="6.0"/><circle cx="1295.4" cy="613.8" r="6.0"/><circle cx="1302.7" cy="618.3" r="6.0"/><circle cx="1304.2" cy="623.2" r="6.0"/><circle cx="1301.4" cy="628.6" r="6.0"/><circle cx="1312.9" cy="632.0" r="6.0"/><circle cx="1307.4" cy="637.9" r="6.0"/><circle cx="1304.0" cy="643.6" r="6.0"/><circle cx="1302.9" cy="648.9" r="6.0"/><circle cx="1309.9" cy="652.6" r="6.0"/><circle cx="1307.5" cy="658.2" r="6.0"/><circle cx="1309.2" cy="662.9" r="6.0"/><circle cx="1307.3" cy="668.4" r="6.0"/><circle cx="1318.5" cy="671.3" r="6.0"/><circle cx="1310.4" cy="678.0" r="6.0"/><circle cx="1322.6" cy="680.6" r="6.0"/><circle cx="1329.5" cy="683.4" r="6.0"/><circle cx="1320.1" cy="691.1" r="6.0"/><circle cx="1323.0" cy="695.5" r="6.0"/><circle cx="1314.7" cy="702.7" r="6.0"/><circle cx="1316.9" cy="707.3" r="6.0"/><circle cx="1328.2" cy="709.9" r="6.0"/><circle cx="1320.4" cy="717.5" r="6.0"/><circle cx="1330.4" cy="737.6" r="6.0"/><circle cx="1326.6" cy="757.6" r="6.0"/><circle cx="1335.4" cy="781.4" r="6.0"/><circle cx="1334.1" cy="797.6" r="6.0"/><circle cx="1339.1" cy="817.7" r="6.0"/><circle cx="1337.0" cy="826.0" r="6.0"/><circle cx="1336.8" cy="831.7" r="6.0"/><circle cx="1341.2" cy="833.4" r="6.0"/><circle cx="1341.5" cy="836.7" r="6.0"/><circle cx="1342.1" cy="839.9" r="6.0"/><circle cx="1347.8" cy="841.6" r="6.0"/><circle cx="1350.5" cy="844.4" r="6.0"/><circle cx="1349.7" cy="847.8" r="6.0"/><circle cx="1345.9" cy="851.6" r="6.0"/><circle cx="1344.3" cy="855.1" r="6.0"/><circle cx="1347.6" cy="857.8" r="6.0"/><circle cx="1352.5" cy="860.3" r="6.0"/><circle cx="1344.9" cy="864.8" r="6.0"/><circle cx="1354.3" cy="866.5" r="6.0"/><circle cx="1351.5" cy="869.9" r="6.0"/><circle cx="1352.8" cy="872.9" r="6.0"/><circle cx="1351.5" cy="876.7" r="6.0"/><circle cx="1350.2" cy="880.5" r="6.0"/><circle cx="1358.6" cy="881.0" r="6.0"/><circle cx="1356.3" cy="885.2" r="6.0"/><circle cx="1355.6" cy="888.8" r="6.0"/><circle cx="1360.8" cy="890.4" r="6.0"/><circle cx="1358.8" cy="894.5" r="6.0"/><circle cx="1358.9" cy="897.8" r="6.0"/><circle cx="1364.3" cy="899.5" r="6.0"/><circle cx="1365.2" cy="902.5" r="6.0"/><circle cx="1362.5" cy="906.7" r="6.0"/><circle cx="1364.0" cy="909.6" r="6.0"/><circle cx="1363.7" cy="913.1" r="6.0"/><circle cx="1359.3" cy="918.5" r="6.0"/><circle cx="1364.2" cy="919.9" r="6.0"/><circle cx="1366.7" cy="922.3" r="6.0"/><circle cx="1371.2" cy="923.9" r="6.0"/><circle cx="1367.9" cy="928.7" r="6.0"/><circle cx="1373.9" cy="929.6" r="6.0"/><circle cx="1368.7" cy="935.4" r="6.0"/><circle cx="1371.1" cy="937.9" r="6.0"/><circle cx="1381.1" cy="937.2" r="6.0"/><circle cx="1380.0" cy="941.1" r="6.0"/><circle cx="1378.5" cy="945.1" r="6.0"/><circle cx="1380.2" cy="947.9" r="6.0"/><circle cx="1383.8" cy="949.9" r="6.0"/><circle cx="1384.9" cy="952.9" r="6.0"/><circle cx="1380.7" cy="958.0" r="6.0"/><circle cx="1385.4" cy="959.6" r="6.0"/><circle cx="1389.2" cy="961.3" r="6.0"/><circle cx="1387.2" cy="965.7" r="6.0"/><circle cx="1385.1" cy="970.2" r="6.0"/><circle cx="1384.4" cy="974.0" r="6.0"/><circle cx="1390.2" cy="974.9" r="6.0"/><circle cx="1392.6" cy="977.3" r="6.0"/><circle cx="1395.2" cy="979.6" r="6.0"/><circle cx="1395.8" cy="982.9" r="6.0"/><circle cx="1393.8" cy="986.9" r="6.0"/><circle cx="1392.5" cy="990.6" r="6.0"/><circle cx="1393.3" cy="993.7" r="6.0"/><circle cx="1398.4" cy="995.7" r="6.0"/><circle cx="1395.9" cy="999.6" r="6.0"/><circle cx="1397.0" cy="1002.6" r="6.0"/><circle cx="1398.8" cy="1005.6" r="6.0"/><circle cx="1408.1" cy="1005.8" r="6.0"/><circle cx="1402.3" cy="1011.2" r="6.0"/><circle cx="1404.0" cy="1014.0" r="6.0"/><circle cx="1400.5" cy="1018.6" r="6.0"/><circle cx="1406.1" cy="1020.0" r="6.0"/><circle cx="1405.1" cy="1023.8" r="6.0"/><circle cx="1406.7" cy="1026.6" r="6.0"/><circle cx="1404.9" cy="1030.6" r="6.0"/><circle cx="1407.4" cy="1033.1" r="6.0"/><circle cx="1407.7" cy="1036.4" r="6.0"/><circle cx="1407.4" cy="1039.9" r="6.0"/><circle cx="1410.0" cy="1042.4" r="6.0"/><circle cx="1411.5" cy="1045.2" r="6.0"/><circle cx="1415.6" cy="1047.2" r="6.0"/><circle cx="1416.0" cy="1050.5" r="6.0"/><circle cx="1412.0" cy="1056.2" r="6.0"/><circle cx="1419.2" cy="1056.0" r="6.0"/><circle cx="1419.4" cy="1059.5" r="6.0"/><circle cx="1422.5" cy="1061.5" r="6.0"/><circle cx="1425.2" cy="1060.8" r="6.0"/><circle cx="1423.5" cy="1066.4" r="6.0"/><circle cx="1426.1" cy="1067.8" r="6.0"/><circle cx="1428.1" cy="1066.1" r="6.0"/><circle cx="1431.3" cy="1065.5" r="6.0"/><circle cx="1433.9" cy="1063.9" r="6.0"/><circle cx="1434.9" cy="1061.3" r="6.0"/><circle cx="1436.3" cy="1058.8" r="6.0"/><circle cx="1439.2" cy="1057.3" r="6.0"/><circle cx="1441.5" cy="1055.4" r="6.0"/><circle cx="1444.4" cy="1053.5" r="6.0"/><circle cx="1441.3" cy="1048.8" r="6.0"/><circle cx="1440.8" cy="1045.4" r="6.0"/><circle cx="1445.9" cy="1044.9" r="6.0"/><circle cx="1444.4" cy="1041.0" r="6.0"/><circle cx="1444.3" cy="1037.8" r="6.0"/><circle cx="1452.5" cy="1037.9" r="6.0"/><circle cx="1450.9" cy="1034.5" r="6.0"/><circle cx="1448.3" cy="1030.7" r="6.0"/><circle cx="1449.3" cy="1028.0" r="6.0"/><circle cx="1452.3" cy="1026.1" r="6.0"/><circle cx="1452.5" cy="1023.2" r="6.0"/><circle cx="1454.2" cy="1020.8" r="6.0"/><circle cx="1453.6" cy="1017.6" r="6.0"/><circle cx="1449.8" cy="1013.1" r="6.0"/><circle cx="1450.9" cy="1010.5" r="6.0"/><circle cx="1459.8" cy="1011.1" r="6.0"/><circle cx="1458.8" cy="1007.7" r="6.0"/><circle cx="1453.1" cy="1002.3" r="6.0"/><circle cx="1461.2" cy="1002.7" r="6.0"/><circle cx="1462.3" cy="1000.1" r="6.0"/><circle cx="1464.6" cy="998.1" r="6.0"/><circle cx="1463.9" cy="994.6" r="6.0"/><circle cx="1465.9" cy="992.5" r="6.0"/><circle cx="1464.2" cy="988.1" r="6.0"/><circle cx="1463.9" cy="984.5" r="6.0"/><circle cx="1468.9" cy="984.6" r="6.0"/><circle cx="1471.4" cy="982.9" r="6.0"/><circle cx="1471.8" cy="979.8" r="6.0"/><circle cx="1473.5" cy="974.7" r="6.0"/><circle cx="1477.2" cy="976.8" r="6.0"/><circle cx="1479.6" cy="975.2" r="6.0"/><circle cx="1480.9" cy="980.0" r="6.0"/><circle cx="1487.0" cy="978.3" r="6.0"/><circle cx="1488.5" cy="980.8" r="6.0"/><circle cx="1489.5" cy="983.6" r="6.0"/><circle cx="1488.7" cy="987.6" r="6.0"/><circle cx="1487.1" cy="991.4" r="6.0"/><circle cx="1490.1" cy="993.2" r="6.0"/><circle cx="1496.3" cy="993.6" r="6.0"/><circle cx="1496.3" cy="996.7" r="6.0"/><circle cx="1490.1" cy="1002.1" r="6.0"/><circle cx="1494.9" cy="1003.3" r="6.0"/><circle cx="1497.1" cy="1005.4" r="6.0"/><circle cx="1496.3" cy="1008.7" r="6.0"/><circle cx="1496.6" cy="1011.5" r="6.0"/><circle cx="1494.3" cy="1015.1" r="6.0"/><circle cx="1499.4" cy="1016.5" r="6.0"/><circle cx="1502.8" cy="1018.4" r="6.0"/><circle cx="1504.3" cy="1020.9" r="6.0"/><circle cx="1499.5" cy="1025.2" r="6.0"/><circle cx="1503.1" cy="1027.0" r="6.0"/><circle cx="1503.4" cy="1029.9" r="6.0"/><circle cx="1503.4" cy="1032.8" r="6.0"/><circle cx="1508.5" cy="1034.2" r="6.0"/><circle cx="1501.8" cy="1039.2" r="6.0"/><circle cx="1508.0" cy="1040.2" r="6.0"/><circle cx="1508.7" cy="1042.9" r="6.0"/><circle cx="1509.6" cy="1045.6" r="6.0"/><circle cx="1509.2" cy="1048.6" r="6.0"/><circle cx="1511.5" cy="1050.9" r="6.0"/><circle cx="1512.2" cy="1053.6" r="6.0"/><circle cx="1510.2" cy="1057.1" r="6.0"/><circle cx="1509.0" cy="1060.3" r="6.0"/><circle cx="1511.5" cy="1062.5" r="6.0"/><circle cx="1517.7" cy="1063.7" r="6.0"/><circle cx="1516.2" cy="1067.0" r="6.0"/><circle cx="1511.8" cy="1071.1" r="6.0"/><circle cx="1516.6" cy="1072.7" r="6.0"/><circle cx="1516.9" cy="1075.5" r="6.0"/><circle cx="1518.7" cy="1077.9" r="6.0"/><circle cx="1514.7" cy="1082.3" r="6.0"/><circle cx="1521.2" cy="1082.9" r="6.0"/><circle cx="1522.2" cy="1085.5" r="6.0"/><circle cx="1518.9" cy="1089.7" r="6.0"/><circle cx="1527.2" cy="1089.7" r="6.0"/><circle cx="1525.3" cy="1092.9" r="6.0"/><circle cx="1519.6" cy="1100.3" r="6.0"/><circle cx="1527.5" cy="1098.2" r="6.0"/><circle cx="1528.1" cy="1101.2" r="6.0"/><circle cx="1534.0" cy="1097.4" r="6.0"/><circle cx="1533.5" cy="1103.6" r="6.0"/><circle cx="1537.3" cy="1102.8" r="6.0"/><circle cx="1539.2" cy="1105.0" r="6.0"/><circle cx="1540.0" cy="1107.9" r="6.0"/><circle cx="1541.8" cy="1109.2" r="6.0"/><circle cx="1543.9" cy="1109.2" r="6.0"/><circle cx="1545.9" cy="1109.2" r="6.0"/><circle cx="1547.9" cy="1109.3" r="6.0"/><circle cx="1549.9" cy="1109.5" r="6.0"/><circle cx="1551.9" cy="1109.7" r="6.0"/><circle cx="1553.8" cy="1110.5" r="6.0"/><circle cx="1555.9" cy="1109.9" r="6.0"/><circle cx="1557.6" cy="1111.9" r="6.0"/><circle cx="1559.6" cy="1112.0" r="6.0"/><circle cx="1561.7" cy="1111.4" r="6.0"/><circle cx="1563.7" cy="1112.3" r="6.0"/><circle cx="1565.6" cy="1112.6" r="6.0"/><circle cx="1567.7" cy="1111.7" r="6.0"/><circle cx="1569.8" cy="1111.4" r="6.0"/><circle cx="1571.6" cy="1112.9" r="6.0"/><circle cx="1573.8" cy="1111.3" r="6.0"/><circle cx="1575.6" cy="1113.3" r="6.0"/><circle cx="1577.7" cy="1113.1" r="6.0"/><circle cx="1579.7" cy="1112.4" r="6.0"/><circle cx="1581.8" cy="1111.5" r="6.0"/><circle cx="1583.6" cy="1113.7" r="6.0"/><circle cx="1585.6" cy="1114.1" r="6.0"/><circle cx="1587.6" cy="1114.1" r="6.0"/><circle cx="1589.8" cy="1111.9" r="6.0"/><circle cx="1591.6" cy="1114.3" r="6.0"/><circle cx="1593.6" cy="1114.3" r="6.0"/><circle cx="1595.6" cy="1114.2" r="6.0"/><circle cx="1597.6" cy="1113.5" r="6.0"/><circle cx="1599.7" cy="1113.1" r="6.0"/><circle cx="1601.6" cy="1115.4" r="6.0"/><circle cx="1603.6" cy="1114.4" r="6.0"/><circle cx="1605.7" cy="1113.3" r="6.0"/><circle cx="1607.6" cy="1115.4" r="6.0"/><circle cx="1609.6" cy="1113.6" r="6.0"/><circle cx="1611.6" cy="1115.1" r="6.0"/><circle cx="1613.6" cy="1113.6" r="6.0"/><circle cx="1615.6" cy="1114.5" r="6.0"/><circle cx="1617.6" cy="1114.7" r="6.0"/><circle cx="1619.6" cy="1116.4" r="6.0"/><circle cx="1621.6" cy="1114.0" r="6.0"/><circle cx="1623.6" cy="1114.3" r="6.0"/><circle cx="1625.6" cy="1116.0" r="6.0"/><circle cx="1627.6" cy="1116.1" r="6.0"/><circle cx="1629.6" cy="1115.3" r="6.0"/><circle cx="1631.6" cy="1114.8" r="6.0"/><circle cx="1633.6" cy="1114.8" r="6.0"/><circle cx="1635.6" cy="1114.1" r="6.0"/><circle cx="1637.6" cy="1116.2" r="6.0"/><circle cx="1639.6" cy="1116.0" r="6.0"/><circle cx="1641.6" cy="1116.2" r="6.0"/><circle cx="1643.6" cy="1116.2" r="6.0"/><circle cx="1645.6" cy="1116.0" r="6.0"/><circle cx="1647.6" cy="1116.4" r="6.0"/><circle cx="1649.6" cy="1114.8" r="6.0"/><circle cx="1651.6" cy="1117.2" r="6.0"/><circle cx="1653.6" cy="1115.9" r="6.0"/><circle cx="1655.6" cy="1115.1" r="6.0"/><circle cx="1657.6" cy="1114.8" r="6.0"/><circle cx="1659.6" cy="1115.5" r="6.0"/><circle cx="1661.6" cy="1116.3" r="6.0"/><circle cx="1663.6" cy="1116.2" r="6.0"/><circle cx="1665.6" cy="1116.7" r="6.0"/><circle cx="1667.6" cy="1117.6" r="6.0"/><circle cx="1669.6" cy="1116.3" r="6.0"/><circle cx="1671.6" cy="1116.7" r="6.0"/><circle cx="1673.6" cy="1116.5" r="6.0"/><circle cx="1675.6" cy="1115.1" r="6.0"/><circle cx="1677.6" cy="1115.5" r="6.0"/><circle cx="1679.6" cy="1115.7" r="6.0"/><circle cx="1681.6" cy="1116.7" r="6.0"/><circle cx="1683.6" cy="1114.8" r="6.0"/><circle cx="1685.6" cy="1117.8" r="6.0"/><circle cx="1687.6" cy="1115.3" r="6.0"/><circle cx="1689.6" cy="1115.1" r="6.0"/><circle cx="1691.6" cy="1115.4" r="6.0"/><circle cx="1693.6" cy="1115.1" r="6.0"/><circle cx="1695.6" cy="1116.1" r="6.0"/><circle cx="1697.6" cy="1116.1" r="6.0"/><circle cx="1699.6" cy="1117.5" r="6.0"/><circle cx="1701.6" cy="1115.7" r="6.0"/><circle cx="1703.6" cy="1116.9" r="6.0"/><circle cx="1705.6" cy="1116.6" r="6.0"/><circle cx="1707.6" cy="1116.4" r="6.0"/><circle cx="1709.6" cy="1114.3" r="6.0"/><circle cx="1711.6" cy="1116.4" r="6.0"/><circle cx="1713.6" cy="1116.2" r="6.0"/><circle cx="1715.6" cy="1115.2" r="6.0"/><circle cx="1717.6" cy="1116.7" r="6.0"/><circle cx="1719.6" cy="1117.1" r="6.0"/><circle cx="1721.6" cy="1116.6" r="6.0"/><circle cx="1723.6" cy="1116.0" r="6.0"/><circle cx="1725.6" cy="1115.1" r="6.0"/><circle cx="1727.6" cy="1116.5" r="6.0"/><circle cx="1729.6" cy="1115.4" r="6.0"/><circle cx="1731.6" cy="1116.4" r="6.0"/><circle cx="1733.6" cy="1115.3" r="6.0"/><circle cx="1735.6" cy="1115.4" r="6.0"/></g><g fill="url(#go3)" stroke="#066006" stroke-width="1.1"><circle cx="1240.3" cy="17.5" r="6.0"/><circle cx="1246.5" cy="10.0" r="6.0"/><circle cx="1243.0" cy="22.0" r="6.0"/><circle cx="1252.0" cy="8.0" r="6.0"/><circle cx="1258.0" cy="3.0" r="6.0"/><circle cx="1270.0" cy="2.5" r="6.0"/><circle cx="1325.4" cy="8.8" r="6.0"/><circle cx="1332.9" cy="21.3" r="6.0"/><circle cx="1327.9" cy="32.5" r="6.0"/><circle cx="1337.9" cy="53.8" r="6.0"/><circle cx="1331.6" cy="62.6" r="6.0"/><circle cx="1340.4" cy="61.3" r="6.0"/><circle cx="1335.4" cy="73.9" r="6.0"/><circle cx="1335.4" cy="97.6" r="6.0"/><circle cx="1340.4" cy="129.0" r="6.0"/><circle cx="1346.7" cy="136.4" r="6.0"/><circle cx="1342.9" cy="166.5" r="6.0"/><circle cx="1347.9" cy="172.7" r="6.0"/><circle cx="1347.9" cy="189.0" r="6.0"/><circle cx="1344.2" cy="199.0" r="6.0"/><circle cx="1351.7" cy="214.0" r="6.0"/><circle cx="1350.4" cy="261.6" r="6.0"/><circle cx="1353.4" cy="281.6" r="6.0"/><circle cx="1355.9" cy="295.4" r="6.0"/><circle cx="1355.4" cy="306.7" r="6.0"/><circle cx="1353.4" cy="328.0" r="6.0"/><circle cx="1359.2" cy="368.0" r="6.0"/><circle cx="1357.9" cy="378.8" r="6.0"/><circle cx="1360.4" cy="391.3" r="6.0"/><circle cx="1362.9" cy="450.2" r="6.0"/><circle cx="1364.2" cy="457.7" r="6.0"/><circle cx="1365.4" cy="470.2" r="6.0"/><circle cx="1364.2" cy="482.7" r="6.0"/><circle cx="1366.7" cy="492.7" r="6.0"/><circle cx="1369.2" cy="512.7" r="6.0"/><circle cx="1367.9" cy="517.8" r="6.0"/><circle cx="1373.0" cy="536.5" r="6.0"/><circle cx="1370.4" cy="545.3" r="6.0"/><circle cx="1369.2" cy="551.6" r="6.0"/><circle cx="1373.0" cy="559.1" r="6.0"/><circle cx="1375.5" cy="566.6" r="6.0"/><circle cx="1375.5" cy="575.3" r="6.0"/><circle cx="1373.0" cy="594.1" r="6.0"/><circle cx="1378.0" cy="602.9" r="6.0"/><circle cx="1380.5" cy="609.1" r="6.0"/><circle cx="1383.0" cy="629.2" r="6.0"/><circle cx="1385.5" cy="636.7" r="6.0"/><circle cx="1386.7" cy="653.0" r="6.0"/><circle cx="1388.0" cy="686.7" r="6.0"/><circle cx="1390.5" cy="695.5" r="6.0"/><circle cx="1390.5" cy="705.5" r="6.0"/><circle cx="1427.5" cy="706.8" r="6.0"/><circle cx="1388.3" cy="706.2" r="6.0"/><circle cx="1394.7" cy="713.6" r="6.0"/><circle cx="1389.8" cy="718.8" r="6.0"/><circle cx="1391.8" cy="727.3" r="6.0"/><circle cx="1390.1" cy="733.0" r="6.0"/><circle cx="1395.0" cy="734.6" r="6.0"/><circle cx="1398.5" cy="740.6" r="6.0"/><circle cx="1406.0" cy="749.7" r="6.0"/><circle cx="1395.9" cy="753.8" r="6.0"/><circle cx="1393.9" cy="759.1" r="6.0"/><circle cx="1397.4" cy="767.3" r="6.0"/><circle cx="1405.6" cy="773.8" r="6.0"/><circle cx="1400.1" cy="778.6" r="6.0"/><circle cx="1405.0" cy="781.3" r="6.0"/><circle cx="1395.7" cy="788.8" r="6.0"/><circle cx="1404.6" cy="795.8" r="6.0"/><circle cx="1397.8" cy="796.6" r="6.0"/><circle cx="1399.4" cy="808.3" r="6.0"/><circle cx="1408.8" cy="810.0" r="6.0"/><circle cx="1403.4" cy="804.1" r="6.0"/><circle cx="1399.6" cy="802.1" r="6.0"/><circle cx="1411.5" cy="799.0" r="6.0"/><circle cx="1410.3" cy="797.0" r="6.0"/><circle cx="1416.4" cy="793.7" r="6.0"/><circle cx="1408.3" cy="788.5" r="6.0"/><circle cx="1409.3" cy="785.6" r="6.0"/><circle cx="1417.3" cy="783.4" r="6.0"/><circle cx="1415.3" cy="780.9" r="6.0"/><circle cx="1414.8" cy="775.9" r="6.0"/><circle cx="1415.4" cy="771.8" r="6.0"/><circle cx="1416.7" cy="768.8" r="6.0"/><circle cx="1416.5" cy="764.6" r="6.0"/><circle cx="1418.4" cy="761.5" r="6.0"/><circle cx="1417.1" cy="756.8" r="6.0"/><circle cx="1416.9" cy="751.1" r="6.0"/><circle cx="1425.3" cy="750.9" r="6.0"/><circle cx="1421.4" cy="748.8" r="6.0"/><circle cx="1415.7" cy="743.8" r="6.0"/><circle cx="1420.4" cy="740.5" r="6.0"/><circle cx="1422.2" cy="736.1" r="6.0"/><circle cx="1414.8" cy="728.4" r="6.0"/><circle cx="1424.3" cy="729.4" r="6.0"/><circle cx="1419.1" cy="723.8" r="6.0"/><circle cx="1421.8" cy="720.6" r="6.0"/><circle cx="1431.6" cy="721.8" r="6.0"/><circle cx="1433.5" cy="724.9" r="6.0"/><circle cx="1438.1" cy="727.1" r="6.0"/><circle cx="1439.0" cy="730.6" r="6.0"/><circle cx="1434.0" cy="736.3" r="6.0"/><circle cx="1440.6" cy="737.6" r="6.0"/><circle cx="1440.7" cy="741.4" r="6.0"/><circle cx="1442.1" cy="744.7" r="6.0"/><circle cx="1441.4" cy="749.3" r="6.0"/><circle cx="1439.8" cy="752.8" r="6.0"/><circle cx="1441.2" cy="756.5" r="6.0"/><circle cx="1443.3" cy="760.2" r="6.0"/><circle cx="1439.7" cy="763.5" r="6.0"/><circle cx="1435.7" cy="767.1" r="6.0"/><circle cx="1439.3" cy="770.7" r="6.0"/><circle cx="1442.9" cy="773.7" r="6.0"/><circle cx="1430.9" cy="779.3" r="6.0"/><circle cx="1442.7" cy="781.0" r="6.0"/><circle cx="1440.2" cy="785.1" r="6.0"/><circle cx="1443.5" cy="787.8" r="6.0"/><circle cx="1441.3" cy="792.6" r="6.0"/><circle cx="1443.8" cy="795.5" r="6.0"/><circle cx="1449.7" cy="793.5" r="6.0"/><circle cx="1445.3" cy="798.6" r="6.0"/><circle cx="1450.1" cy="801.3" r="6.0"/><circle cx="1445.4" cy="809.4" r="6.0"/><circle cx="1449.7" cy="812.5" r="6.0"/><circle cx="1455.6" cy="819.3" r="6.0"/><circle cx="1451.4" cy="824.0" r="6.0"/><circle cx="1445.0" cy="829.5" r="6.0"/><circle cx="1450.9" cy="836.3" r="6.0"/><circle cx="1451.5" cy="839.6" r="6.0"/><circle cx="1454.6" cy="842.4" r="6.0"/><circle cx="1456.6" cy="851.1" r="6.0"/><circle cx="1448.1" cy="853.8" r="6.0"/><circle cx="1452.5" cy="858.7" r="6.0"/><circle cx="1445.3" cy="867.8" r="6.0"/><circle cx="1454.3" cy="870.8" r="6.0"/><circle cx="1450.2" cy="873.2" r="6.0"/><circle cx="1453.9" cy="881.1" r="6.0"/><circle cx="1457.1" cy="885.8" r="6.0"/><circle cx="1454.7" cy="890.1" r="6.0"/><circle cx="1454.1" cy="890.1" r="6.0"/><circle cx="1459.4" cy="888.5" r="6.0"/><circle cx="1465.9" cy="887.4" r="6.0"/><circle cx="1456.1" cy="879.9" r="6.0"/><circle cx="1466.6" cy="880.4" r="6.0"/><circle cx="1462.9" cy="875.2" r="6.0"/><circle cx="1470.2" cy="874.2" r="6.0"/><circle cx="1466.2" cy="869.3" r="6.0"/><circle cx="1467.9" cy="866.3" r="6.0"/><circle cx="1471.2" cy="863.8" r="6.0"/><circle cx="1468.4" cy="859.4" r="6.0"/><circle cx="1471.4" cy="856.8" r="6.0"/><circle cx="1471.7" cy="853.3" r="6.0"/><circle cx="1478.7" cy="851.8" r="6.0"/><circle cx="1475.4" cy="847.3" r="6.0"/><circle cx="1469.0" cy="841.9" r="6.0"/><circle cx="1477.3" cy="840.7" r="6.0"/><circle cx="1477.7" cy="837.3" r="6.0"/><circle cx="1477.7" cy="833.8" r="6.0"/><circle cx="1483.6" cy="831.8" r="6.0"/><circle cx="1483.2" cy="828.2" r="6.0"/><circle cx="1474.4" cy="822.5" r="6.0"/><circle cx="1485.8" cy="821.7" r="6.0"/><circle cx="1479.7" cy="816.8" r="6.0"/><circle cx="1480.4" cy="813.5" r="6.0"/><circle cx="1480.8" cy="810.1" r="6.0"/><circle cx="1482.9" cy="807.1" r="6.0"/><circle cx="1487.2" cy="804.6" r="6.0"/><circle cx="1480.2" cy="799.6" r="6.0"/><circle cx="1484.9" cy="797.1" r="6.0"/><circle cx="1483.3" cy="793.3" r="6.0"/><circle cx="1485.7" cy="790.4" r="6.0"/><circle cx="1485.5" cy="786.8" r="6.0"/><circle cx="1490.2" cy="784.3" r="6.0"/><circle cx="1491.5" cy="781.1" r="6.0"/><circle cx="1485.4" cy="776.4" r="6.0"/><circle cx="1490.8" cy="774.0" r="6.0"/><circle cx="1484.6" cy="768.9" r="6.0"/><circle cx="1492.2" cy="767.4" r="6.0"/><circle cx="1495.3" cy="764.7" r="6.0"/><circle cx="1492.5" cy="760.4" r="6.0"/><circle cx="1503.3" cy="759.7" r="6.0"/><circle cx="1496.9" cy="754.6" r="6.0"/><circle cx="1498.7" cy="752.3" r="6.0"/><circle cx="1498.5" cy="756.0" r="6.0"/><circle cx="1499.3" cy="759.0" r="6.0"/><circle cx="1504.2" cy="759.4" r="6.0"/><circle cx="1503.5" cy="763.5" r="6.0"/><circle cx="1498.4" cy="767.6" r="6.0"/><circle cx="1506.8" cy="769.4" r="6.0"/><circle cx="1505.5" cy="772.6" r="6.0"/><circle cx="1504.5" cy="775.8" r="6.0"/><circle cx="1509.6" cy="778.1" r="6.0"/><circle cx="1505.8" cy="781.7" r="6.0"/><circle cx="1504.0" cy="785.0" r="6.0"/><circle cx="1506.9" cy="787.6" r="6.0"/><circle cx="1509.3" cy="790.3" r="6.0"/><circle cx="1507.2" cy="793.6" r="6.0"/><circle cx="1509.5" cy="796.3" r="6.0"/><circle cx="1507.7" cy="799.6" r="6.0"/><circle cx="1508.6" cy="802.5" r="6.0"/><circle cx="1509.2" cy="805.4" r="6.0"/><circle cx="1511.2" cy="808.2" r="6.0"/><circle cx="1506.8" cy="811.9" r="6.0"/><circle cx="1509.7" cy="814.5" r="6.0"/><circle cx="1509.3" cy="817.6" r="6.0"/><circle cx="1510.6" cy="820.4" r="6.0"/><circle cx="1512.0" cy="823.2" r="6.0"/><circle cx="1510.9" cy="826.4" r="6.0"/><circle cx="1512.0" cy="829.3" r="6.0"/><circle cx="1512.1" cy="832.3" r="6.0"/><circle cx="1512.7" cy="835.3" r="6.0"/><circle cx="1514.1" cy="838.1" r="6.0"/><circle cx="1513.1" cy="841.2" r="6.0"/><circle cx="1513.1" cy="844.2" r="6.0"/><circle cx="1511.8" cy="847.3" r="6.0"/><circle cx="1515.4" cy="850.1" r="6.0"/><circle cx="1511.9" cy="853.3" r="6.0"/><circle cx="1519.3" cy="855.5" r="6.0"/><circle cx="1516.9" cy="858.9" r="6.0"/><circle cx="1515.2" cy="862.1" r="6.0"/><circle cx="1516.8" cy="864.9" r="6.0"/><circle cx="1515.0" cy="868.2" r="6.0"/><circle cx="1520.6" cy="870.5" r="6.0"/><circle cx="1519.6" cy="873.6" r="6.0"/><circle cx="1520.5" cy="876.5" r="6.0"/><circle cx="1517.6" cy="879.9" r="6.0"/><circle cx="1515.1" cy="883.3" r="6.0"/><circle cx="1520.8" cy="885.5" r="6.0"/><circle cx="1520.0" cy="888.7" r="6.0"/><circle cx="1521.5" cy="891.5" r="6.0"/><circle cx="1518.3" cy="895.1" r="6.0"/><circle cx="1519.4" cy="897.9" r="6.0"/><circle cx="1519.8" cy="900.9" r="6.0"/><circle cx="1523.4" cy="903.2" r="6.0"/><circle cx="1523.0" cy="906.4" r="6.0"/><circle cx="1524.4" cy="909.1" r="6.0"/><circle cx="1525.0" cy="911.9" r="6.0"/><circle cx="1525.5" cy="914.9" r="6.0"/><circle cx="1525.0" cy="918.3" r="6.0"/><circle cx="1530.1" cy="919.7" r="6.0"/><circle cx="1524.9" cy="924.6" r="6.0"/><circle cx="1528.7" cy="926.5" r="6.0"/><circle cx="1527.5" cy="931.2" r="6.0"/><circle cx="1530.4" cy="932.8" r="6.0"/><circle cx="1534.0" cy="933.8" r="6.0"/><circle cx="1536.1" cy="936.5" r="6.0"/><circle cx="1538.4" cy="938.7" r="6.0"/><circle cx="1542.7" cy="936.2" r="6.0"/><circle cx="1544.0" cy="941.0" r="6.0"/><circle cx="1547.5" cy="940.2" r="6.0"/><circle cx="1548.3" cy="938.9" r="6.0"/><circle cx="1550.0" cy="942.9" r="6.0"/><circle cx="1552.1" cy="942.7" r="6.0"/><circle cx="1554.2" cy="940.1" r="6.0"/><circle cx="1556.2" cy="941.3" r="6.0"/><circle cx="1558.3" cy="939.0" r="6.0"/><circle cx="1560.1" cy="942.5" r="6.0"/><circle cx="1562.2" cy="941.2" r="6.0"/><circle cx="1564.2" cy="941.4" r="6.0"/><circle cx="1566.1" cy="943.1" r="6.0"/><circle cx="1568.2" cy="940.4" r="6.0"/><circle cx="1570.1" cy="942.2" r="6.0"/><circle cx="1572.2" cy="940.6" r="6.0"/><circle cx="1574.2" cy="941.6" r="6.0"/><circle cx="1576.1" cy="943.4" r="6.0"/><circle cx="1578.3" cy="939.7" r="6.0"/><circle cx="1580.2" cy="941.3" r="6.0"/><circle cx="1582.0" cy="944.0" r="6.0"/><circle cx="1584.1" cy="943.4" r="6.0"/><circle cx="1586.2" cy="942.1" r="6.0"/><circle cx="1588.1" cy="943.7" r="6.0"/><circle cx="1590.1" cy="943.8" r="6.0"/><circle cx="1592.1" cy="943.1" r="6.0"/><circle cx="1594.1" cy="941.7" r="6.0"/><circle cx="1596.1" cy="943.5" r="6.0"/><circle cx="1598.1" cy="944.3" r="6.0"/><circle cx="1600.1" cy="941.9" r="6.0"/><circle cx="1602.1" cy="944.6" r="6.0"/><circle cx="1604.1" cy="943.4" r="6.0"/><circle cx="1606.1" cy="943.8" r="6.0"/><circle cx="1608.1" cy="940.5" r="6.0"/><circle cx="1610.1" cy="944.5" r="6.0"/><circle cx="1612.1" cy="943.9" r="6.0"/><circle cx="1614.1" cy="944.1" r="6.0"/><circle cx="1616.1" cy="941.6" r="6.0"/><circle cx="1618.1" cy="942.9" r="6.0"/><circle cx="1620.1" cy="942.7" r="6.0"/><circle cx="1622.1" cy="943.5" r="6.0"/><circle cx="1624.2" cy="945.8" r="6.0"/><circle cx="1626.1" cy="940.6" r="6.0"/><circle cx="1628.1" cy="943.5" r="6.0"/><circle cx="1630.1" cy="941.7" r="6.0"/><circle cx="1632.1" cy="942.3" r="6.0"/><circle cx="1634.1" cy="943.3" r="6.0"/><circle cx="1636.1" cy="941.6" r="6.0"/><circle cx="1638.1" cy="941.4" r="6.0"/><circle cx="1640.1" cy="942.4" r="6.0"/><circle cx="1642.1" cy="942.1" r="6.0"/><circle cx="1644.1" cy="942.3" r="6.0"/><circle cx="1646.0" cy="943.1" r="6.0"/><circle cx="1648.1" cy="942.7" r="6.0"/><circle cx="1650.1" cy="943.0" r="6.0"/><circle cx="1652.1" cy="942.9" r="6.0"/><circle cx="1654.0" cy="943.9" r="6.0"/><circle cx="1656.0" cy="944.2" r="6.0"/><circle cx="1658.1" cy="942.7" r="6.0"/><circle cx="1660.1" cy="942.7" r="6.0"/><circle cx="1662.1" cy="942.8" r="6.0"/><circle cx="1664.0" cy="944.2" r="6.0"/><circle cx="1666.0" cy="944.9" r="6.0"/><circle cx="1668.0" cy="943.8" r="6.0"/><circle cx="1670.1" cy="943.6" r="6.0"/><circle cx="1672.1" cy="943.7" r="6.0"/><circle cx="1674.1" cy="943.7" r="6.0"/><circle cx="1676.0" cy="944.1" r="6.0"/><circle cx="1678.1" cy="943.7" r="6.0"/><circle cx="1680.0" cy="945.0" r="6.0"/><circle cx="1682.0" cy="945.2" r="6.0"/><circle cx="1684.0" cy="945.3" r="6.0"/><circle cx="1686.1" cy="943.9" r="6.0"/><circle cx="1687.9" cy="947.1" r="6.0"/><circle cx="1689.9" cy="946.4" r="6.0"/><circle cx="1692.0" cy="945.3" r="6.0"/><circle cx="1693.9" cy="946.4" r="6.0"/><circle cx="1695.9" cy="946.6" r="6.0"/><circle cx="1698.0" cy="945.9" r="6.0"/><circle cx="1700.1" cy="944.0" r="6.0"/><circle cx="1702.0" cy="945.3" r="6.0"/><circle cx="1704.0" cy="945.8" r="6.0"/><circle cx="1705.9" cy="947.3" r="6.0"/><circle cx="1707.9" cy="947.6" r="6.0"/><circle cx="1709.9" cy="947.0" r="6.0"/><circle cx="1712.0" cy="946.0" r="6.0"/><circle cx="1713.9" cy="947.3" r="6.0"/><circle cx="1716.0" cy="946.2" r="6.0"/><circle cx="1717.9" cy="948.3" r="6.0"/><circle cx="1719.9" cy="947.1" r="6.0"/><circle cx="1722.0" cy="946.5" r="6.0"/><circle cx="1724.0" cy="946.2" r="6.0"/><circle cx="1726.0" cy="946.8" r="6.0"/><circle cx="1728.0" cy="946.8" r="6.0"/><circle cx="1730.0" cy="944.6" r="6.0"/><circle cx="1731.9" cy="947.9" r="6.0"/><circle cx="1733.9" cy="948.0" r="6.0"/><circle cx="1736.0" cy="946.6" r="6.0"/></g><g fill="url(#go2)" stroke="#b09a14" stroke-width="1.1"><circle cx="1339.1" cy="7.5" r="6.0"/><circle cx="1347.9" cy="21.3" r="6.0"/><circle cx="1344.2" cy="31.3" r="6.0"/><circle cx="1351.7" cy="38.8" r="6.0"/><circle cx="1354.2" cy="48.8" r="6.0"/><circle cx="1355.4" cy="60.0" r="6.0"/><circle cx="1357.9" cy="76.4" r="6.0"/><circle cx="1359.7" cy="86.4" r="6.0"/><circle cx="1361.7" cy="97.6" r="6.0"/><circle cx="1363.7" cy="117.7" r="6.0"/><circle cx="1366.0" cy="129.0" r="6.0"/><circle cx="1368.0" cy="140.2" r="6.0"/><circle cx="1370.0" cy="151.5" r="6.0"/><circle cx="1371.7" cy="174.5" r="6.0"/><circle cx="1373.5" cy="199.5" r="6.0"/><circle cx="1375.5" cy="214.6" r="6.0"/><circle cx="1377.5" cy="242.1" r="6.0"/><circle cx="1379.2" cy="252.9" r="6.0"/><circle cx="1381.2" cy="285.9" r="6.0"/><circle cx="1383.0" cy="308.0" r="6.0"/><circle cx="1384.7" cy="324.7" r="6.0"/><circle cx="1386.7" cy="353.8" r="6.0"/><circle cx="1389.7" cy="375.0" r="6.0"/><circle cx="1391.0" cy="401.3" r="6.0"/><circle cx="1393.0" cy="427.0" r="6.0"/><circle cx="1394.2" cy="449.0" r="6.0"/><circle cx="1395.5" cy="470.2" r="6.0"/><circle cx="1398.0" cy="490.2" r="6.0"/><circle cx="1399.2" cy="516.5" r="6.0"/><circle cx="1401.0" cy="525.3" r="6.0"/><circle cx="1403.0" cy="545.3" r="6.0"/><circle cx="1405.0" cy="557.8" r="6.0"/><circle cx="1406.7" cy="572.8" r="6.0"/><circle cx="1408.1" cy="584.3" r="6.0"/><circle cx="1408.4" cy="587.0" r="6.0"/><circle cx="1411.6" cy="588.6" r="6.0"/><circle cx="1412.6" cy="591.0" r="6.0"/><circle cx="1412.0" cy="594.0" r="6.0"/><circle cx="1411.8" cy="597.3" r="6.0"/><circle cx="1414.5" cy="598.6" r="6.0"/><circle cx="1417.5" cy="599.7" r="6.0"/><circle cx="1418.6" cy="602.2" r="6.0"/><circle cx="1419.6" cy="604.5" r="6.0"/><circle cx="1420.7" cy="607.2" r="6.0"/><circle cx="1423.3" cy="608.2" r="6.0"/><circle cx="1425.4" cy="609.8" r="6.0"/><circle cx="1427.1" cy="611.7" r="6.0"/><circle cx="1428.7" cy="613.9" r="6.0"/><circle cx="1431.3" cy="615.0" r="6.0"/><circle cx="1432.5" cy="617.4" r="6.0"/><circle cx="1433.4" cy="619.8" r="6.0"/><circle cx="1432.8" cy="622.8" r="6.0"/><circle cx="1435.7" cy="624.5" r="6.0"/><circle cx="1435.5" cy="627.3" r="6.0"/><circle cx="1438.7" cy="628.9" r="6.0"/><circle cx="1437.2" cy="632.0" r="6.0"/><circle cx="1438.4" cy="634.4" r="6.0"/><circle cx="1439.7" cy="636.8" r="6.0"/><circle cx="1439.5" cy="639.5" r="6.0"/><circle cx="1438.9" cy="642.2" r="6.0"/><circle cx="1440.7" cy="644.6" r="6.0"/><circle cx="1439.6" cy="647.4" r="6.0"/><circle cx="1439.6" cy="650.1" r="6.0"/><circle cx="1440.0" cy="652.7" r="6.0"/><circle cx="1440.5" cy="655.2" r="6.0"/><circle cx="1444.3" cy="657.1" r="6.0"/><circle cx="1443.1" cy="660.0" r="6.0"/><circle cx="1444.9" cy="662.2" r="6.0"/><circle cx="1443.6" cy="665.2" r="6.0"/><circle cx="1445.3" cy="667.5" r="6.0"/><circle cx="1445.7" cy="670.1" r="6.0"/><circle cx="1446.1" cy="672.7" r="6.0"/><circle cx="1448.0" cy="674.8" r="6.0"/><circle cx="1448.0" cy="677.5" r="6.0"/><circle cx="1449.7" cy="679.8" r="6.0"/><circle cx="1447.3" cy="683.2" r="6.0"/><circle cx="1450.9" cy="684.8" r="6.0"/><circle cx="1451.5" cy="687.3" r="6.0"/><circle cx="1454.5" cy="688.7" r="6.0"/><circle cx="1455.4" cy="691.2" r="6.0"/><circle cx="1455.8" cy="693.9" r="6.0"/><circle cx="1455.8" cy="697.1" r="6.0"/><circle cx="1457.7" cy="698.9" r="6.0"/><circle cx="1459.9" cy="700.3" r="6.0"/><circle cx="1461.5" cy="698.6" r="6.0"/><circle cx="1465.4" cy="698.8" r="6.0"/><circle cx="1464.7" cy="694.8" r="6.0"/><circle cx="1466.2" cy="692.7" r="6.0"/><circle cx="1468.8" cy="691.2" r="6.0"/><circle cx="1468.7" cy="688.1" r="6.0"/><circle cx="1471.3" cy="686.6" r="6.0"/><circle cx="1473.3" cy="684.8" r="6.0"/><circle cx="1473.5" cy="681.9" r="6.0"/><circle cx="1475.2" cy="679.9" r="6.0"/><circle cx="1476.0" cy="677.3" r="6.0"/><circle cx="1476.4" cy="674.6" r="6.0"/><circle cx="1474.9" cy="671.0" r="6.0"/><circle cx="1478.2" cy="669.7" r="6.0"/><circle cx="1480.6" cy="668.0" r="6.0"/><circle cx="1480.0" cy="664.9" r="6.0"/><circle cx="1482.3" cy="663.1" r="6.0"/><circle cx="1484.3" cy="661.2" r="6.0"/><circle cx="1486.6" cy="659.4" r="6.0"/><circle cx="1484.9" cy="655.7" r="6.0"/><circle cx="1487.0" cy="653.8" r="6.0"/><circle cx="1489.1" cy="652.0" r="6.0"/><circle cx="1490.8" cy="650.0" r="6.0"/><circle cx="1490.4" cy="646.6" r="6.0"/><circle cx="1495.0" cy="646.6" r="6.0"/><circle cx="1493.8" cy="642.7" r="6.0"/><circle cx="1496.6" cy="642.9" r="6.0"/><circle cx="1498.9" cy="640.9" r="6.0"/><circle cx="1501.6" cy="641.2" r="6.0"/><circle cx="1501.9" cy="642.4" r="6.0"/><circle cx="1504.3" cy="644.0" r="6.0"/><circle cx="1506.3" cy="645.8" r="6.0"/><circle cx="1508.9" cy="647.2" r="6.0"/><circle cx="1509.3" cy="650.1" r="6.0"/><circle cx="1510.9" cy="652.4" r="6.0"/><circle cx="1507.6" cy="656.0" r="6.0"/><circle cx="1512.4" cy="657.4" r="6.0"/><circle cx="1514.2" cy="659.6" r="6.0"/><circle cx="1510.0" cy="663.4" r="6.0"/><circle cx="1511.0" cy="665.8" r="6.0"/><circle cx="1513.4" cy="667.9" r="6.0"/><circle cx="1512.6" cy="670.7" r="6.0"/><circle cx="1515.0" cy="672.9" r="6.0"/><circle cx="1515.3" cy="675.5" r="6.0"/><circle cx="1514.6" cy="678.3" r="6.0"/><circle cx="1515.2" cy="680.8" r="6.0"/><circle cx="1516.7" cy="683.2" r="6.0"/><circle cx="1514.6" cy="686.2" r="6.0"/><circle cx="1516.1" cy="688.5" r="6.0"/><circle cx="1517.2" cy="691.0" r="6.0"/><circle cx="1519.2" cy="693.3" r="6.0"/><circle cx="1518.2" cy="696.1" r="6.0"/><circle cx="1519.4" cy="698.5" r="6.0"/><circle cx="1519.8" cy="701.1" r="6.0"/><circle cx="1519.6" cy="703.8" r="6.0"/><circle cx="1521.8" cy="705.9" r="6.0"/><circle cx="1521.6" cy="708.7" r="6.0"/><circle cx="1521.7" cy="711.3" r="6.0"/><circle cx="1522.9" cy="713.7" r="6.0"/><circle cx="1521.5" cy="716.9" r="6.0"/><circle cx="1526.8" cy="718.0" r="6.0"/><circle cx="1525.7" cy="721.0" r="6.0"/><circle cx="1527.7" cy="723.1" r="6.0"/><circle cx="1527.2" cy="726.0" r="6.0"/><circle cx="1525.0" cy="729.4" r="6.0"/><circle cx="1530.5" cy="730.4" r="6.0"/><circle cx="1529.9" cy="733.3" r="6.0"/><circle cx="1529.8" cy="736.1" r="6.0"/><circle cx="1531.5" cy="738.3" r="6.0"/><circle cx="1531.6" cy="741.0" r="6.0"/><circle cx="1535.3" cy="742.3" r="6.0"/><circle cx="1533.5" cy="745.9" r="6.0"/><circle cx="1536.6" cy="747.4" r="6.0"/><circle cx="1538.4" cy="748.4" r="6.0"/><circle cx="1539.1" cy="751.7" r="6.0"/><circle cx="1541.2" cy="753.3" r="6.0"/><circle cx="1544.1" cy="753.8" r="6.0"/><circle cx="1546.2" cy="755.3" r="6.0"/><circle cx="1547.8" cy="757.5" r="6.0"/><circle cx="1550.1" cy="758.4" r="6.0"/><circle cx="1552.7" cy="758.8" r="6.0"/><circle cx="1555.4" cy="758.3" r="6.0"/><circle cx="1558.3" cy="757.3" r="6.0"/><circle cx="1560.0" cy="762.0" r="6.0"/><circle cx="1562.8" cy="761.2" r="6.0"/><circle cx="1565.7" cy="760.1" r="6.0"/><circle cx="1568.3" cy="760.2" r="6.0"/><circle cx="1570.6" cy="761.7" r="6.0"/><circle cx="1573.0" cy="763.4" r="6.0"/><circle cx="1575.0" cy="763.1" r="6.0"/><circle cx="1576.6" cy="766.3" r="6.0"/><circle cx="1578.9" cy="764.1" r="6.0"/><circle cx="1580.9" cy="764.1" r="6.0"/><circle cx="1582.9" cy="764.5" r="6.0"/><circle cx="1585.0" cy="764.0" r="6.0"/><circle cx="1587.0" cy="764.0" r="6.0"/><circle cx="1588.8" cy="765.3" r="6.0"/><circle cx="1590.9" cy="764.7" r="6.0"/><circle cx="1592.8" cy="765.9" r="6.0"/><circle cx="1594.9" cy="765.2" r="6.0"/><circle cx="1597.0" cy="764.1" r="6.0"/><circle cx="1598.9" cy="764.6" r="6.0"/><circle cx="1600.9" cy="765.2" r="6.0"/><circle cx="1603.0" cy="764.4" r="6.0"/><circle cx="1604.8" cy="766.1" r="6.0"/><circle cx="1606.8" cy="766.1" r="6.0"/><circle cx="1608.8" cy="767.3" r="6.0"/><circle cx="1610.9" cy="765.9" r="6.0"/><circle cx="1612.8" cy="766.6" r="6.0"/><circle cx="1614.8" cy="767.5" r="6.0"/><circle cx="1616.7" cy="767.8" r="6.0"/><circle cx="1618.9" cy="766.4" r="6.0"/><circle cx="1620.7" cy="768.7" r="6.0"/><circle cx="1622.8" cy="767.1" r="6.0"/><circle cx="1624.7" cy="768.8" r="6.0"/><circle cx="1626.8" cy="767.7" r="6.0"/><circle cx="1628.8" cy="767.8" r="6.0"/><circle cx="1630.8" cy="767.2" r="6.0"/><circle cx="1632.8" cy="768.3" r="6.0"/><circle cx="1634.6" cy="770.6" r="6.0"/><circle cx="1636.8" cy="768.2" r="6.0"/><circle cx="1638.6" cy="770.2" r="6.0"/><circle cx="1640.7" cy="770.1" r="6.0"/><circle cx="1642.7" cy="768.8" r="6.0"/><circle cx="1644.7" cy="770.2" r="6.0"/><circle cx="1646.7" cy="770.5" r="6.0"/><circle cx="1648.7" cy="769.2" r="6.0"/><circle cx="1650.7" cy="769.1" r="6.0"/><circle cx="1652.7" cy="770.6" r="6.0"/><circle cx="1654.7" cy="770.0" r="6.0"/><circle cx="1656.6" cy="771.6" r="6.0"/><circle cx="1658.7" cy="770.3" r="6.0"/><circle cx="1660.7" cy="769.1" r="6.0"/><circle cx="1662.7" cy="770.1" r="6.0"/><circle cx="1664.7" cy="769.2" r="6.0"/><circle cx="1666.7" cy="771.0" r="6.0"/><circle cx="1668.7" cy="771.0" r="6.0"/><circle cx="1670.7" cy="770.2" r="6.0"/><circle cx="1672.7" cy="769.9" r="6.0"/><circle cx="1674.6" cy="771.5" r="6.0"/><circle cx="1676.7" cy="770.5" r="6.0"/><circle cx="1678.6" cy="772.0" r="6.0"/><circle cx="1680.7" cy="770.2" r="6.0"/><circle cx="1682.7" cy="770.9" r="6.0"/><circle cx="1684.7" cy="770.8" r="6.0"/><circle cx="1686.7" cy="770.5" r="6.0"/><circle cx="1688.5" cy="773.7" r="6.0"/><circle cx="1690.6" cy="772.9" r="6.0"/><circle cx="1692.7" cy="771.1" r="6.0"/><circle cx="1694.6" cy="772.4" r="6.0"/><circle cx="1696.7" cy="770.3" r="6.0"/><circle cx="1698.6" cy="773.0" r="6.0"/><circle cx="1700.6" cy="772.9" r="6.0"/><circle cx="1702.7" cy="771.8" r="6.0"/><circle cx="1704.7" cy="771.8" r="6.0"/><circle cx="1706.6" cy="772.4" r="6.0"/><circle cx="1708.6" cy="772.6" r="6.0"/><circle cx="1710.7" cy="772.0" r="6.0"/><circle cx="1712.7" cy="771.6" r="6.0"/><circle cx="1714.6" cy="772.2" r="6.0"/><circle cx="1716.7" cy="772.1" r="6.0"/><circle cx="1718.6" cy="773.2" r="6.0"/><circle cx="1720.6" cy="772.6" r="6.0"/><circle cx="1722.6" cy="772.8" r="6.0"/><circle cx="1724.7" cy="771.3" r="6.0"/><circle cx="1726.6" cy="772.4" r="6.0"/><circle cx="1728.6" cy="772.5" r="6.0"/><circle cx="1730.6" cy="772.4" r="6.0"/><circle cx="1732.6" cy="772.8" r="6.0"/><circle cx="1734.6" cy="772.7" r="6.0"/><circle cx="1736.7" cy="771.7" r="6.0"/></g><g fill="url(#go1)" stroke="#606000" stroke-width="1.1"><circle cx="1413.5" cy="25.0" r="6.0"/><circle cx="1418.0" cy="63.0" r="6.0"/><circle cx="1416.0" cy="71.4" r="6.0"/><circle cx="1419.3" cy="100.0" r="6.0"/><circle cx="1421.8" cy="115.7" r="6.0"/><circle cx="1420.5" cy="127.7" r="6.0"/><circle cx="1423.5" cy="162.2" r="6.0"/><circle cx="1426.3" cy="187.8" r="6.0"/><circle cx="1429.8" cy="202.8" r="6.0"/><circle cx="1424.8" cy="214.6" r="6.0"/><circle cx="1440.5" cy="229.6" r="6.0"/><circle cx="1429.3" cy="235.3" r="6.0"/><circle cx="1434.0" cy="245.0" r="6.0"/><circle cx="1466.8" cy="247.9" r="6.0"/><circle cx="1458.0" cy="256.6" r="6.0"/><circle cx="1473.0" cy="266.6" r="6.0"/><circle cx="1474.3" cy="295.4" r="6.0"/><circle cx="1504.4" cy="440.0" r="6.0"/><circle cx="1443.7" cy="236.3" r="6.0"/><circle cx="1429.4" cy="244.4" r="6.0"/><circle cx="1424.6" cy="249.5" r="6.0"/><circle cx="1440.0" cy="248.2" r="6.0"/><circle cx="1448.8" cy="248.9" r="6.0"/><circle cx="1437.8" cy="256.0" r="6.0"/><circle cx="1433.7" cy="260.9" r="6.0"/><circle cx="1428.8" cy="266.0" r="6.0"/><circle cx="1451.6" cy="261.4" r="6.0"/><circle cx="1453.6" cy="264.2" r="6.0"/><circle cx="1436.3" cy="274.8" r="6.0"/><circle cx="1439.7" cy="277.1" r="6.0"/><circle cx="1431.2" cy="284.2" r="6.0"/><circle cx="1437.5" cy="285.3" r="6.0"/><circle cx="1448.9" cy="284.4" r="6.0"/><circle cx="1451.7" cy="287.0" r="6.0"/><circle cx="1427.4" cy="302.2" r="6.0"/><circle cx="1454.6" cy="292.9" r="6.0"/><circle cx="1460.5" cy="293.8" r="6.0"/><circle cx="1465.2" cy="295.4" r="6.0"/><circle cx="1455.6" cy="303.8" r="6.0"/><circle cx="1456.6" cy="307.1" r="6.0"/><circle cx="1462.5" cy="308.0" r="6.0"/><circle cx="1461.4" cy="312.3" r="6.0"/><circle cx="1459.8" cy="316.8" r="6.0"/><circle cx="1457.4" cy="321.6" r="6.0"/><circle cx="1455.2" cy="326.4" r="6.0"/><circle cx="1464.7" cy="325.8" r="6.0"/><circle cx="1484.3" cy="320.4" r="6.0"/><circle cx="1463.1" cy="334.0" r="6.0"/><circle cx="1483.8" cy="328.2" r="6.0"/><circle cx="1473.9" cy="336.5" r="6.0"/><circle cx="1487.1" cy="334.1" r="6.0"/><circle cx="1475.2" cy="343.4" r="6.0"/><circle cx="1483.6" cy="341.8" r="6.0"/><circle cx="1477.3" cy="350.2" r="6.0"/><circle cx="1453.7" cy="370.4" r="6.0"/><circle cx="1483.3" cy="354.3" r="6.0"/><circle cx="1477.9" cy="362.1" r="6.0"/><circle cx="1497.7" cy="352.8" r="6.0"/><circle cx="1491.0" cy="361.4" r="6.0"/><circle cx="1484.5" cy="368.9" r="6.0"/><circle cx="1492.8" cy="368.5" r="6.0"/><circle cx="1490.2" cy="373.6" r="6.0"/><circle cx="1494.1" cy="375.5" r="6.0"/><circle cx="1505.5" cy="373.6" r="6.0"/><circle cx="1493.0" cy="383.6" r="6.0"/><circle cx="1506.8" cy="380.5" r="6.0"/><circle cx="1484.3" cy="395.5" r="6.0"/><circle cx="1507.1" cy="388.0" r="6.0"/><circle cx="1498.0" cy="396.3" r="6.0"/><circle cx="1505.6" cy="396.3" r="6.0"/><circle cx="1498.7" cy="403.6" r="6.0"/><circle cx="1514.1" cy="399.7" r="6.0"/><circle cx="1501.3" cy="409.9" r="6.0"/><circle cx="1512.8" cy="407.9" r="6.0"/><circle cx="1502.0" cy="417.2" r="6.0"/><circle cx="1509.2" cy="417.3" r="6.0"/><circle cx="1515.0" cy="418.2" r="6.0"/><circle cx="1524.8" cy="417.1" r="6.0"/><circle cx="1512.5" cy="427.1" r="6.0"/><circle cx="1525.6" cy="423.4" r="6.0"/><circle cx="1520.0" cy="428.5" r="6.0"/><circle cx="1522.9" cy="431.2" r="6.0"/><circle cx="1524.6" cy="434.3" r="6.0"/><circle cx="1519.9" cy="439.1" r="6.0"/><circle cx="1524.3" cy="441.4" r="6.0"/><circle cx="1526.6" cy="444.3" r="6.0"/><circle cx="1519.5" cy="449.9" r="6.0"/><circle cx="1529.2" cy="450.6" r="6.0"/><circle cx="1533.1" cy="453.1" r="6.0"/><circle cx="1534.5" cy="456.2" r="6.0"/><circle cx="1532.2" cy="460.4" r="6.0"/><circle cx="1528.5" cy="465.0" r="6.0"/><circle cx="1528.7" cy="468.5" r="6.0"/><circle cx="1528.6" cy="472.1" r="6.0"/><circle cx="1526.8" cy="476.1" r="6.0"/><circle cx="1528.2" cy="479.2" r="6.0"/><circle cx="1532.9" cy="481.2" r="6.0"/><circle cx="1530.8" cy="485.0" r="6.0"/><circle cx="1534.0" cy="487.9" r="6.0"/><circle cx="1539.4" cy="490.3" r="6.0"/><circle cx="1534.5" cy="494.7" r="6.0"/><circle cx="1538.2" cy="497.5" r="6.0"/><circle cx="1539.8" cy="500.6" r="6.0"/><circle cx="1531.7" cy="505.6" r="6.0"/><circle cx="1537.4" cy="508.2" r="6.0"/><circle cx="1543.1" cy="510.3" r="6.0"/><circle cx="1542.3" cy="514.0" r="6.0"/><circle cx="1533.6" cy="519.6" r="6.0"/><circle cx="1544.5" cy="520.4" r="6.0"/><circle cx="1541.4" cy="524.7" r="6.0"/><circle cx="1542.7" cy="527.9" r="6.0"/><circle cx="1543.9" cy="531.0" r="6.0"/><circle cx="1544.2" cy="534.4" r="6.0"/><circle cx="1549.1" cy="536.9" r="6.0"/><circle cx="1549.7" cy="540.2" r="6.0"/><circle cx="1549.2" cy="543.8" r="6.0"/><circle cx="1550.6" cy="547.0" r="6.0"/><circle cx="1546.7" cy="551.2" r="6.0"/><circle cx="1544.4" cy="555.1" r="6.0"/><circle cx="1554.8" cy="556.5" r="6.0"/><circle cx="1549.7" cy="561.0" r="6.0"/><circle cx="1556.5" cy="563.1" r="6.0"/><circle cx="1556.0" cy="566.7" r="6.0"/><circle cx="1554.8" cy="570.4" r="6.0"/><circle cx="1554.1" cy="574.0" r="6.0"/><circle cx="1557.0" cy="576.9" r="6.0"/><circle cx="1566.4" cy="578.2" r="6.0"/><circle cx="1551.3" cy="585.1" r="6.0"/><circle cx="1558.6" cy="587.0" r="6.0"/><circle cx="1560.8" cy="589.9" r="6.0"/><circle cx="1556.4" cy="594.4" r="6.0"/><circle cx="1561.9" cy="595.9" r="6.0"/><circle cx="1566.6" cy="597.1" r="6.0"/><circle cx="1561.7" cy="604.0" r="6.0"/><circle cx="1563.8" cy="606.8" r="6.0"/><circle cx="1569.8" cy="607.0" r="6.0"/><circle cx="1567.2" cy="614.0" r="6.0"/><circle cx="1571.0" cy="614.6" r="6.0"/><circle cx="1577.5" cy="612.0" r="6.0"/><circle cx="1572.8" cy="623.2" r="6.0"/><circle cx="1579.9" cy="620.2" r="6.0"/><circle cx="1585.2" cy="616.3" r="6.0"/><circle cx="1585.9" cy="623.5" r="6.0"/><circle cx="1589.6" cy="623.6" r="6.0"/><circle cx="1590.1" cy="622.6" r="6.0"/><circle cx="1590.5" cy="630.1" r="6.0"/><circle cx="1594.7" cy="620.4" r="6.0"/><circle cx="1597.6" cy="616.5" r="6.0"/><circle cx="1597.5" cy="626.0" r="6.0"/><circle cx="1599.1" cy="628.1" r="6.0"/><circle cx="1601.3" cy="627.5" r="6.0"/><circle cx="1603.1" cy="628.5" r="6.0"/><circle cx="1605.7" cy="626.2" r="6.0"/><circle cx="1608.1" cy="624.6" r="6.0"/><circle cx="1610.2" cy="624.3" r="6.0"/><circle cx="1611.6" cy="627.1" r="6.0"/><circle cx="1613.7" cy="626.9" r="6.0"/><circle cx="1614.4" cy="633.1" r="6.0"/><circle cx="1616.7" cy="632.2" r="6.0"/><circle cx="1620.4" cy="624.3" r="6.0"/><circle cx="1620.5" cy="633.4" r="6.0"/><circle cx="1623.1" cy="630.6" r="6.0"/><circle cx="1624.0" cy="636.1" r="6.0"/><circle cx="1625.6" cy="638.3" r="6.0"/><circle cx="1628.4" cy="634.5" r="6.0"/><circle cx="1632.6" cy="624.6" r="6.0"/><circle cx="1632.2" cy="635.8" r="6.0"/><circle cx="1636.3" cy="626.4" r="6.0"/><circle cx="1635.2" cy="640.7" r="6.0"/><circle cx="1639.4" cy="631.3" r="6.0"/><circle cx="1640.9" cy="633.8" r="6.0"/><circle cx="1641.5" cy="643.1" r="6.0"/><circle cx="1645.9" cy="627.3" r="6.0"/><circle cx="1646.6" cy="635.6" r="6.0"/><circle cx="1649.4" cy="631.0" r="6.0"/><circle cx="1651.0" cy="633.8" r="6.0"/><circle cx="1653.1" cy="632.8" r="6.0"/><circle cx="1654.1" cy="639.8" r="6.0"/><circle cx="1656.7" cy="635.6" r="6.0"/><circle cx="1658.3" cy="638.8" r="6.0"/><circle cx="1660.1" cy="640.5" r="6.0"/><circle cx="1663.6" cy="630.2" r="6.0"/><circle cx="1663.5" cy="644.5" r="6.0"/><circle cx="1666.6" cy="637.4" r="6.0"/><circle cx="1669.5" cy="631.3" r="6.0"/><circle cx="1670.8" cy="636.1" r="6.0"/><circle cx="1671.8" cy="643.3" r="6.0"/><circle cx="1673.7" cy="644.2" r="6.0"/><circle cx="1676.8" cy="636.9" r="6.0"/><circle cx="1678.2" cy="640.7" r="6.0"/><circle cx="1680.1" cy="641.6" r="6.0"/><circle cx="1681.6" cy="645.5" r="6.0"/><circle cx="1684.3" cy="640.5" r="6.0"/><circle cx="1685.5" cy="645.9" r="6.0"/><circle cx="1688.8" cy="637.7" r="6.0"/><circle cx="1690.7" cy="638.8" r="6.0"/><circle cx="1691.7" cy="645.4" r="6.0"/><circle cx="1693.6" cy="645.9" r="6.0"/><circle cx="1696.1" cy="642.7" r="6.0"/><circle cx="1697.7" cy="646.0" r="6.0"/><circle cx="1700.1" cy="644.5" r="6.0"/><circle cx="1701.9" cy="647.1" r="6.0"/><circle cx="1703.8" cy="649.1" r="6.0"/><circle cx="1706.0" cy="646.2" r="6.0"/><circle cx="1707.9" cy="647.7" r="6.0"/><circle cx="1710.2" cy="642.2" r="6.0"/><circle cx="1712.2" cy="641.6" r="6.0"/><circle cx="1714.6" cy="633.5" r="6.0"/><circle cx="1716.0" cy="646.2" r="6.0"/><circle cx="1718.1" cy="644.6" r="6.0"/><circle cx="1720.0" cy="647.0" r="6.0"/><circle cx="1722.5" cy="636.1" r="6.0"/><circle cx="1724.2" cy="642.5" r="6.0"/><circle cx="1726.2" cy="642.3" r="6.0"/><circle cx="1728.5" cy="636.7" r="6.0"/><circle cx="1729.9" cy="649.2" r="6.0"/><circle cx="1731.8" cy="650.7" r="6.0"/><circle cx="1734.4" cy="639.4" r="6.0"/><circle cx="1736.0" cy="647.4" r="6.0"/><circle cx="1737.7" cy="653.3" r="6.0"/></g><g fill="url(#gi5)" stroke="#38d838" stroke-width="1.1"><circle cx="1590.0" cy="1282.2" r="6.0"/><circle cx="1594.7" cy="1280.9" r="6.0"/><circle cx="1599.5" cy="1281.8" r="6.0"/><circle cx="1604.2" cy="1281.8" r="6.0"/><circle cx="1608.9" cy="1282.8" r="6.0"/><circle cx="1613.7" cy="1287.8" r="6.0"/><circle cx="1618.4" cy="1285.6" r="6.0"/><circle cx="1623.1" cy="1290.4" r="6.0"/><circle cx="1627.8" cy="1293.6" r="6.0"/><circle cx="1632.6" cy="1297.9" r="6.0"/><circle cx="1637.3" cy="1298.7" r="6.0"/><circle cx="1642.0" cy="1294.6" r="6.0"/><circle cx="1646.8" cy="1292.6" r="6.0"/><circle cx="1651.5" cy="1283.4" r="6.0"/><circle cx="1656.2" cy="1283.9" r="6.0"/><circle cx="1661.0" cy="1286.2" r="6.0"/><circle cx="1665.7" cy="1285.3" r="6.0"/><circle cx="1670.4" cy="1284.7" r="6.0"/><circle cx="1675.1" cy="1286.3" r="6.0"/><circle cx="1679.9" cy="1289.5" r="6.0"/><circle cx="1684.6" cy="1289.5" r="6.0"/><circle cx="1689.3" cy="1288.5" r="6.0"/><circle cx="1694.1" cy="1287.5" r="6.0"/><circle cx="1698.8" cy="1286.8" r="6.0"/><circle cx="1703.5" cy="1277.9" r="6.0"/><circle cx="1708.2" cy="1272.5" r="6.0"/><circle cx="1713.0" cy="1269.6" r="6.0"/><circle cx="1717.7" cy="1269.3" r="6.0"/><circle cx="1722.4" cy="1256.7" r="6.0"/><circle cx="1727.2" cy="1255.4" r="6.0"/><circle cx="1731.9" cy="1251.0" r="6.0"/><circle cx="1736.6" cy="1242.8" r="6.0"/><circle cx="1741.4" cy="1236.5" r="6.0"/><circle cx="1746.1" cy="1225.7" r="6.0"/><circle cx="1750.8" cy="1217.8" r="6.0"/><circle cx="1755.5" cy="1215.3" r="6.0"/><circle cx="1760.3" cy="1204.1" r="6.0"/><circle cx="1765.0" cy="1200.9" r="6.0"/><circle cx="1769.7" cy="1196.9" r="6.0"/><circle cx="1774.5" cy="1191.7" r="6.0"/><circle cx="1779.2" cy="1189.1" r="6.0"/><circle cx="1783.9" cy="1182.5" r="6.0"/><circle cx="1788.7" cy="1178.5" r="6.0"/><circle cx="1793.4" cy="1176.6" r="6.0"/><circle cx="1798.1" cy="1170.6" r="6.0"/><circle cx="1802.8" cy="1168.6" r="6.0"/><circle cx="1807.6" cy="1170.9" r="6.0"/><circle cx="1812.3" cy="1167.7" r="6.0"/><circle cx="1817.0" cy="1168.1" r="6.0"/><circle cx="1821.8" cy="1157.1" r="6.0"/><circle cx="1826.5" cy="1153.4" r="6.0"/><circle cx="1831.2" cy="1158.3" r="6.0"/><circle cx="1836.0" cy="1156.9" r="6.0"/><circle cx="1840.7" cy="1163.3" r="6.0"/><circle cx="1845.4" cy="1159.2" r="6.0"/><circle cx="1850.2" cy="1165.1" r="6.0"/><circle cx="1854.9" cy="1163.1" r="6.0"/><circle cx="1859.6" cy="1156.9" r="6.0"/><circle cx="1864.3" cy="1159.7" r="6.0"/><circle cx="1869.1" cy="1163.3" r="6.0"/><circle cx="1873.8" cy="1165.3" r="6.0"/><circle cx="1878.5" cy="1161.0" r="6.0"/><circle cx="1883.3" cy="1160.2" r="6.0"/><circle cx="1888.0" cy="1167.8" r="6.0"/><circle cx="1892.7" cy="1165.0" r="6.0"/><circle cx="1897.5" cy="1167.4" r="6.0"/><circle cx="1902.2" cy="1168.5" r="6.0"/><circle cx="1906.9" cy="1163.4" r="6.0"/><circle cx="1911.6" cy="1168.3" r="6.0"/><circle cx="1916.4" cy="1170.3" r="6.0"/><circle cx="1921.1" cy="1170.7" r="6.0"/><circle cx="1925.8" cy="1163.5" r="6.0"/><circle cx="1930.6" cy="1162.8" r="6.0"/><circle cx="1935.3" cy="1157.5" r="6.0"/><circle cx="1940.0" cy="1158.4" r="6.0"/><circle cx="1944.8" cy="1157.3" r="6.0"/><circle cx="1949.5" cy="1151.1" r="6.0"/><circle cx="1954.2" cy="1144.5" r="6.0"/><circle cx="1958.9" cy="1139.4" r="6.0"/><circle cx="1963.7" cy="1130.9" r="6.0"/><circle cx="1968.4" cy="1129.2" r="6.0"/><circle cx="1973.1" cy="1125.4" r="6.0"/><circle cx="1977.9" cy="1111.1" r="6.0"/><circle cx="1982.6" cy="1108.9" r="6.0"/><circle cx="1987.3" cy="1101.8" r="6.0"/><circle cx="1992.0" cy="1092.6" r="6.0"/><circle cx="1996.8" cy="1090.5" r="6.0"/><circle cx="2001.5" cy="1083.9" r="6.0"/><circle cx="2006.2" cy="1071.2" r="6.0"/><circle cx="2011.0" cy="1062.6" r="6.0"/><circle cx="2015.7" cy="1050.5" r="6.0"/><circle cx="2020.4" cy="1035.1" r="6.0"/><circle cx="2025.2" cy="1023.0" r="6.0"/><circle cx="2029.9" cy="1011.8" r="6.0"/><circle cx="2034.6" cy="996.0" r="6.0"/><circle cx="2039.4" cy="991.9" r="6.0"/><circle cx="2044.1" cy="975.7" r="6.0"/><circle cx="2048.8" cy="975.4" r="6.0"/><circle cx="2053.5" cy="960.3" r="6.0"/><circle cx="2058.3" cy="944.7" r="6.0"/><circle cx="2063.0" cy="934.0" r="6.0"/><circle cx="2067.7" cy="926.6" r="6.0"/></g><g fill="url(#gi4)" stroke="#4590d8" stroke-width="1.1"><circle cx="1802.3" cy="970.4" r="6.0"/><circle cx="1889.9" cy="985.4" r="6.0"/><circle cx="1794.8" cy="859.0" r="6.0"/><circle cx="1590.0" cy="1106.9" r="6.0"/><circle cx="1594.7" cy="1104.5" r="6.0"/><circle cx="1599.5" cy="1104.3" r="6.0"/><circle cx="1604.2" cy="1102.9" r="6.0"/><circle cx="1608.9" cy="1104.1" r="6.0"/><circle cx="1613.7" cy="1104.4" r="6.0"/><circle cx="1618.4" cy="1106.4" r="6.0"/><circle cx="1623.1" cy="1110.6" r="6.0"/><circle cx="1627.8" cy="1104.8" r="6.0"/><circle cx="1632.6" cy="1105.9" r="6.0"/><circle cx="1637.3" cy="1105.4" r="6.0"/><circle cx="1642.0" cy="1103.5" r="6.0"/><circle cx="1646.8" cy="1109.7" r="6.0"/><circle cx="1651.5" cy="1100.5" r="6.0"/><circle cx="1656.2" cy="1103.2" r="6.0"/><circle cx="1661.0" cy="1108.0" r="6.0"/><circle cx="1665.7" cy="1108.3" r="6.0"/><circle cx="1670.4" cy="1100.9" r="6.0"/><circle cx="1675.1" cy="1101.8" r="6.0"/><circle cx="1679.9" cy="1097.7" r="6.0"/><circle cx="1684.6" cy="1096.4" r="6.0"/><circle cx="1689.3" cy="1098.2" r="6.0"/><circle cx="1694.1" cy="1089.3" r="6.0"/><circle cx="1698.8" cy="1079.8" r="6.0"/><circle cx="1703.5" cy="1071.8" r="6.0"/><circle cx="1708.2" cy="1067.4" r="6.0"/><circle cx="1713.0" cy="1060.7" r="6.0"/><circle cx="1717.7" cy="1062.5" r="6.0"/><circle cx="1722.4" cy="1046.6" r="6.0"/><circle cx="1727.2" cy="1045.4" r="6.0"/><circle cx="1731.9" cy="1044.1" r="6.0"/><circle cx="1736.6" cy="1038.0" r="6.0"/><circle cx="1741.4" cy="1020.5" r="6.0"/><circle cx="1746.1" cy="1022.2" r="6.0"/><circle cx="1750.8" cy="1011.1" r="6.0"/><circle cx="1755.5" cy="1008.2" r="6.0"/><circle cx="1760.3" cy="1001.8" r="6.0"/><circle cx="1765.0" cy="1005.5" r="6.0"/><circle cx="1769.7" cy="995.4" r="6.0"/><circle cx="1774.5" cy="989.0" r="6.0"/><circle cx="1779.2" cy="987.0" r="6.0"/><circle cx="1783.9" cy="979.3" r="6.0"/><circle cx="1788.7" cy="986.0" r="6.0"/><circle cx="1793.4" cy="986.0" r="6.0"/><circle cx="1798.1" cy="987.3" r="6.0"/><circle cx="1802.9" cy="978.6" r="6.0"/><circle cx="1807.6" cy="990.1" r="6.0"/><circle cx="1812.3" cy="981.8" r="6.0"/><circle cx="1817.0" cy="972.8" r="6.0"/><circle cx="1821.8" cy="975.0" r="6.0"/><circle cx="1826.5" cy="979.1" r="6.0"/><circle cx="1831.2" cy="977.1" r="6.0"/><circle cx="1836.0" cy="980.4" r="6.0"/><circle cx="1840.7" cy="985.7" r="6.0"/><circle cx="1845.4" cy="993.1" r="6.0"/><circle cx="1850.2" cy="994.6" r="6.0"/><circle cx="1854.9" cy="995.9" r="6.0"/><circle cx="1859.6" cy="1000.6" r="6.0"/><circle cx="1864.3" cy="1004.3" r="6.0"/><circle cx="1869.1" cy="1002.9" r="6.0"/><circle cx="1873.8" cy="1002.8" r="6.0"/><circle cx="1878.5" cy="1004.4" r="6.0"/><circle cx="1883.3" cy="1008.5" r="6.0"/><circle cx="1888.0" cy="1005.4" r="6.0"/><circle cx="1892.7" cy="998.8" r="6.0"/><circle cx="1897.5" cy="1003.1" r="6.0"/><circle cx="1902.2" cy="994.3" r="6.0"/><circle cx="1906.9" cy="999.2" r="6.0"/><circle cx="1911.6" cy="1005.4" r="6.0"/><circle cx="1916.4" cy="1006.6" r="6.0"/><circle cx="1921.1" cy="1005.1" r="6.0"/><circle cx="1925.8" cy="995.4" r="6.0"/><circle cx="1930.6" cy="995.5" r="6.0"/><circle cx="1935.3" cy="999.5" r="6.0"/></g><g fill="url(#gi3)" stroke="#0f8a0f" stroke-width="1.1"><circle cx="1590.0" cy="935.9" r="6.0"/><circle cx="1594.7" cy="934.9" r="6.0"/><circle cx="1599.5" cy="934.3" r="6.0"/><circle cx="1604.2" cy="936.8" r="6.0"/><circle cx="1608.9" cy="931.7" r="6.0"/><circle cx="1613.7" cy="937.4" r="6.0"/><circle cx="1618.4" cy="936.2" r="6.0"/><circle cx="1623.1" cy="936.1" r="6.0"/><circle cx="1627.8" cy="937.8" r="6.0"/><circle cx="1632.6" cy="932.3" r="6.0"/><circle cx="1637.3" cy="931.8" r="6.0"/><circle cx="1642.0" cy="937.9" r="6.0"/><circle cx="1646.8" cy="939.5" r="6.0"/><circle cx="1651.5" cy="938.0" r="6.0"/><circle cx="1656.2" cy="933.3" r="6.0"/><circle cx="1661.0" cy="931.2" r="6.0"/><circle cx="1665.7" cy="938.5" r="6.0"/><circle cx="1670.4" cy="934.5" r="6.0"/><circle cx="1675.1" cy="936.4" r="6.0"/><circle cx="1679.9" cy="939.0" r="6.0"/><circle cx="1684.6" cy="940.4" r="6.0"/><circle cx="1689.3" cy="933.6" r="6.0"/><circle cx="1694.1" cy="940.6" r="6.0"/><circle cx="1698.8" cy="941.4" r="6.0"/><circle cx="1703.5" cy="937.2" r="6.0"/><circle cx="1708.2" cy="939.3" r="6.0"/><circle cx="1713.0" cy="938.7" r="6.0"/><circle cx="1717.7" cy="936.6" r="6.0"/><circle cx="1722.4" cy="941.8" r="6.0"/><circle cx="1727.0" cy="940.7" r="6.0"/><circle cx="1731.7" cy="934.6" r="6.0"/><circle cx="1736.5" cy="926.8" r="6.0"/><circle cx="1741.2" cy="927.0" r="6.0"/><circle cx="1745.9" cy="921.2" r="6.0"/><circle cx="1750.7" cy="916.1" r="6.0"/><circle cx="1755.4" cy="913.2" r="6.0"/><circle cx="1760.1" cy="898.7" r="6.0"/><circle cx="1764.8" cy="890.1" r="6.0"/><circle cx="1769.6" cy="877.4" r="6.0"/><circle cx="1774.3" cy="866.7" r="6.0"/><circle cx="1779.0" cy="860.1" r="6.0"/><circle cx="1783.8" cy="849.2" r="6.0"/><circle cx="1788.5" cy="839.3" r="6.0"/><circle cx="1793.2" cy="839.0" r="6.0"/><circle cx="1798.0" cy="828.0" r="6.0"/><circle cx="1802.7" cy="825.7" r="6.0"/><circle cx="1807.4" cy="819.1" r="6.0"/><circle cx="1812.1" cy="820.9" r="6.0"/><circle cx="1816.9" cy="817.1" r="6.0"/><circle cx="1821.6" cy="823.0" r="6.0"/><circle cx="1826.3" cy="820.8" r="6.0"/><circle cx="1831.1" cy="823.5" r="6.0"/><circle cx="1835.8" cy="818.4" r="6.0"/><circle cx="1840.5" cy="826.5" r="6.0"/><circle cx="1845.2" cy="813.8" r="6.0"/><circle cx="1850.0" cy="810.9" r="6.0"/><circle cx="1854.7" cy="813.7" r="6.0"/><circle cx="1859.4" cy="809.4" r="6.0"/><circle cx="1864.2" cy="805.3" r="6.0"/><circle cx="1868.9" cy="797.1" r="6.0"/><circle cx="1873.6" cy="795.0" r="6.0"/><circle cx="1878.4" cy="791.2" r="6.0"/><circle cx="1883.1" cy="779.1" r="6.0"/><circle cx="1887.8" cy="778.3" r="6.0"/><circle cx="1892.5" cy="773.7" r="6.0"/><circle cx="1897.3" cy="769.1" r="6.0"/><circle cx="1902.0" cy="776.0" r="6.0"/><circle cx="1906.7" cy="778.8" r="6.0"/><circle cx="1911.5" cy="778.9" r="6.0"/><circle cx="1916.2" cy="775.3" r="6.0"/><circle cx="1920.9" cy="785.9" r="6.0"/><circle cx="1925.7" cy="792.7" r="6.0"/><circle cx="1930.4" cy="794.8" r="6.0"/><circle cx="1935.1" cy="790.7" r="6.0"/><circle cx="1939.8" cy="785.5" r="6.0"/><circle cx="1944.6" cy="783.2" r="6.0"/><circle cx="1949.3" cy="784.1" r="6.0"/><circle cx="1954.0" cy="779.3" r="6.0"/><circle cx="1958.8" cy="775.6" r="6.0"/><circle cx="1963.5" cy="777.7" r="6.0"/><circle cx="1968.2" cy="772.9" r="6.0"/><circle cx="1973.0" cy="765.1" r="6.0"/><circle cx="1977.7" cy="770.2" r="6.0"/><circle cx="1982.4" cy="761.7" r="6.0"/><circle cx="1987.2" cy="750.8" r="6.0"/><circle cx="1991.9" cy="744.6" r="6.0"/><circle cx="1996.6" cy="744.2" r="6.0"/><circle cx="2001.3" cy="734.0" r="6.0"/><circle cx="2006.1" cy="729.8" r="6.0"/><circle cx="2010.8" cy="726.5" r="6.0"/><circle cx="2015.5" cy="718.2" r="6.0"/><circle cx="2020.3" cy="712.9" r="6.0"/><circle cx="2025.0" cy="703.7" r="6.0"/></g><g fill="url(#gi2)" stroke="#e6d410" stroke-width="1.1"><circle cx="2026.9" cy="334.2" r="6.0"/><circle cx="2023.9" cy="366.8" r="6.0"/><circle cx="1588.8" cy="762.0" r="6.0"/><circle cx="1599.3" cy="758.0" r="6.0"/><circle cx="1600.5" cy="744.3" r="6.0"/><circle cx="1600.7" cy="760.7" r="6.0"/><circle cx="1605.6" cy="759.3" r="6.0"/><circle cx="1611.0" cy="759.7" r="6.0"/><circle cx="1609.2" cy="764.7" r="6.0"/><circle cx="1615.3" cy="755.8" r="6.0"/><circle cx="1619.7" cy="763.1" r="6.0"/><circle cx="1625.2" cy="760.7" r="6.0"/><circle cx="1626.4" cy="761.1" r="6.0"/><circle cx="1631.2" cy="755.6" r="6.0"/><circle cx="1638.5" cy="754.1" r="6.0"/><circle cx="1636.0" cy="754.6" r="6.0"/><circle cx="1641.3" cy="759.0" r="6.0"/><circle cx="1643.8" cy="751.2" r="6.0"/><circle cx="1647.5" cy="756.1" r="6.0"/><circle cx="1650.0" cy="757.9" r="6.0"/><circle cx="1656.2" cy="754.8" r="6.0"/><circle cx="1657.8" cy="756.5" r="6.0"/><circle cx="1659.4" cy="751.6" r="6.0"/><circle cx="1666.6" cy="747.6" r="6.0"/><circle cx="1670.6" cy="751.1" r="6.0"/><circle cx="1673.4" cy="753.3" r="6.0"/><circle cx="1674.7" cy="747.2" r="6.0"/><circle cx="1682.8" cy="748.6" r="6.0"/><circle cx="1681.6" cy="739.2" r="6.0"/><circle cx="1686.1" cy="733.8" r="6.0"/><circle cx="1692.1" cy="740.0" r="6.0"/><circle cx="1691.3" cy="738.8" r="6.0"/><circle cx="1695.6" cy="735.7" r="6.0"/><circle cx="1701.1" cy="736.8" r="6.0"/><circle cx="1709.2" cy="724.0" r="6.0"/><circle cx="1706.6" cy="730.3" r="6.0"/><circle cx="1714.3" cy="732.3" r="6.0"/><circle cx="1716.7" cy="732.0" r="6.0"/><circle cx="1719.2" cy="729.1" r="6.0"/><circle cx="1724.3" cy="720.2" r="6.0"/><circle cx="1725.1" cy="718.0" r="6.0"/><circle cx="1726.4" cy="713.8" r="6.0"/><circle cx="1728.8" cy="708.0" r="6.0"/><circle cx="1735.8" cy="704.3" r="6.0"/><circle cx="1739.8" cy="692.5" r="6.0"/><circle cx="1744.0" cy="687.9" r="6.0"/><circle cx="1750.5" cy="685.8" r="6.0"/><circle cx="1753.4" cy="681.2" r="6.0"/><circle cx="1753.1" cy="670.3" r="6.0"/><circle cx="1761.7" cy="664.5" r="6.0"/><circle cx="1761.1" cy="660.8" r="6.0"/><circle cx="1764.8" cy="658.4" r="6.0"/><circle cx="1772.0" cy="656.7" r="6.0"/><circle cx="1772.4" cy="647.1" r="6.0"/><circle cx="1777.0" cy="640.7" r="6.0"/><circle cx="1779.4" cy="649.0" r="6.0"/><circle cx="1786.0" cy="638.3" r="6.0"/><circle cx="1791.2" cy="638.6" r="6.0"/><circle cx="1793.4" cy="633.5" r="6.0"/><circle cx="1790.1" cy="631.2" r="6.0"/><circle cx="1796.3" cy="622.5" r="6.0"/><circle cx="1792.0" cy="621.0" r="6.0"/><circle cx="1802.1" cy="624.1" r="6.0"/><circle cx="1802.6" cy="634.1" r="6.0"/><circle cx="1808.5" cy="624.0" r="6.0"/><circle cx="1814.0" cy="621.9" r="6.0"/><circle cx="1816.0" cy="625.4" r="6.0"/><circle cx="1818.7" cy="629.0" r="6.0"/><circle cx="1819.9" cy="630.3" r="6.0"/><circle cx="1824.0" cy="631.5" r="6.0"/><circle cx="1831.6" cy="620.6" r="6.0"/><circle cx="1829.4" cy="632.0" r="6.0"/><circle cx="1838.3" cy="638.4" r="6.0"/><circle cx="1842.0" cy="619.7" r="6.0"/><circle cx="1846.3" cy="635.2" r="6.0"/><circle cx="1844.8" cy="623.9" r="6.0"/><circle cx="1844.8" cy="623.6" r="6.0"/><circle cx="1852.2" cy="616.0" r="6.0"/><circle cx="1857.7" cy="617.2" r="6.0"/><circle cx="1862.4" cy="613.0" r="6.0"/><circle cx="1853.5" cy="607.7" r="6.0"/><circle cx="1866.1" cy="601.0" r="6.0"/><circle cx="1867.9" cy="591.9" r="6.0"/><circle cx="1871.6" cy="594.1" r="6.0"/><circle cx="1864.0" cy="596.1" r="6.0"/><circle cx="1879.4" cy="590.2" r="6.0"/><circle cx="1878.6" cy="590.5" r="6.0"/><circle cx="1885.3" cy="581.8" r="6.0"/><circle cx="1887.4" cy="574.6" r="6.0"/><circle cx="1890.8" cy="572.5" r="6.0"/><circle cx="1900.9" cy="581.2" r="6.0"/><circle cx="1900.8" cy="567.5" r="6.0"/><circle cx="1900.3" cy="570.2" r="6.0"/><circle cx="1900.2" cy="566.2" r="6.0"/><circle cx="1902.8" cy="545.8" r="6.0"/><circle cx="1913.3" cy="560.7" r="6.0"/><circle cx="1912.1" cy="559.0" r="6.0"/><circle cx="1917.2" cy="539.5" r="6.0"/><circle cx="1914.2" cy="545.9" r="6.0"/><circle cx="1925.5" cy="555.5" r="6.0"/><circle cx="1919.6" cy="539.0" r="6.0"/><circle cx="1933.1" cy="542.5" r="6.0"/><circle cx="1929.8" cy="550.7" r="6.0"/><circle cx="1935.5" cy="548.1" r="6.0"/><circle cx="1940.6" cy="536.5" r="6.0"/><circle cx="1942.7" cy="549.5" r="6.0"/><circle cx="1938.4" cy="548.3" r="6.0"/><circle cx="1948.6" cy="535.7" r="6.0"/><circle cx="1952.2" cy="540.8" r="6.0"/><circle cx="1950.3" cy="534.9" r="6.0"/><circle cx="1962.2" cy="537.7" r="6.0"/><circle cx="1957.5" cy="527.3" r="6.0"/><circle cx="1966.2" cy="526.2" r="6.0"/><circle cx="1965.1" cy="518.2" r="6.0"/><circle cx="1970.2" cy="514.7" r="6.0"/><circle cx="1985.0" cy="485.2" r="6.0"/><circle cx="1990.0" cy="477.7" r="6.0"/><circle cx="1992.6" cy="472.7" r="6.0"/><circle cx="1997.6" cy="452.7" r="6.0"/><circle cx="2002.6" cy="442.7" r="6.0"/><circle cx="2007.6" cy="430.0" r="6.0"/><circle cx="2012.6" cy="392.6" r="6.0"/><circle cx="2017.6" cy="385.0" r="6.0"/><circle cx="1975.0" cy="505.0" r="6.0"/><circle cx="1980.0" cy="497.0" r="6.0"/></g><g fill="url(#gi1)" stroke="#9ca004" stroke-width="1.1"><circle cx="2062.7" cy="12.5" r="6.0"/><circle cx="2059.0" cy="25.0" r="6.0"/><circle cx="2054.0" cy="37.6" r="6.0"/><circle cx="2052.2" cy="61.8" r="6.0"/><circle cx="2049.7" cy="88.9" r="6.0"/><circle cx="2043.9" cy="93.9" r="6.0"/><circle cx="2047.7" cy="121.9" r="6.0"/><circle cx="2041.4" cy="132.7" r="6.0"/><circle cx="2038.9" cy="141.5" r="6.0"/><circle cx="2035.1" cy="161.5" r="6.0"/><circle cx="2036.4" cy="171.5" r="6.0"/><circle cx="2030.1" cy="175.3" r="6.0"/><circle cx="2025.1" cy="186.5" r="6.0"/><circle cx="2027.0" cy="181.0" r="6.0"/><circle cx="2013.9" cy="216.6" r="6.0"/><circle cx="2022.6" cy="216.6" r="6.0"/><circle cx="2007.6" cy="242.8" r="6.0"/><circle cx="2010.1" cy="252.9" r="6.0"/><circle cx="2017.6" cy="251.6" r="6.0"/><circle cx="2012.6" cy="264.1" r="6.0"/><circle cx="2003.9" cy="269.1" r="6.0"/><circle cx="1997.6" cy="275.4" r="6.0"/><circle cx="1976.3" cy="276.6" r="6.0"/><circle cx="2000.1" cy="284.2" r="6.0"/><circle cx="1992.6" cy="290.4" r="6.0"/><circle cx="1972.6" cy="291.7" r="6.0"/><circle cx="1985.1" cy="295.4" r="6.0"/><circle cx="1970.0" cy="301.7" r="6.0"/><circle cx="1990.1" cy="309.2" r="6.0"/><circle cx="1980.1" cy="311.7" r="6.0"/><circle cx="1965.0" cy="320.5" r="6.0"/><circle cx="1967.5" cy="333.0" r="6.0"/><circle cx="1947.5" cy="330.5" r="6.0"/><circle cx="1937.5" cy="334.2" r="6.0"/><circle cx="1927.5" cy="336.7" r="6.0"/><circle cx="1920.0" cy="341.7" r="6.0"/><circle cx="1897.4" cy="350.5" r="6.0"/><circle cx="1905.0" cy="356.8" r="6.0"/><circle cx="1920.0" cy="361.8" r="6.0"/><circle cx="1943.8" cy="363.0" r="6.0"/><circle cx="1887.4" cy="370.5" r="6.0"/><circle cx="2020.1" cy="111.4" r="6.0"/><circle cx="1590.9" cy="634.3" r="6.0"/><circle cx="1592.9" cy="640.7" r="6.0"/><circle cx="1595.7" cy="642.4" r="6.0"/><circle cx="1599.5" cy="637.8" r="6.0"/><circle cx="1602.3" cy="639.0" r="6.0"/><circle cx="1603.8" cy="648.5" r="6.0"/><circle cx="1608.4" cy="638.7" r="6.0"/><circle cx="1610.7" cy="643.7" r="6.0"/><circle cx="1614.2" cy="640.5" r="6.0"/><circle cx="1616.3" cy="646.5" r="6.0"/><circle cx="1619.1" cy="647.8" r="6.0"/><circle cx="1621.7" cy="650.7" r="6.0"/><circle cx="1624.7" cy="651.0" r="6.0"/><circle cx="1629.2" cy="642.0" r="6.0"/><circle cx="1631.9" cy="644.0" r="6.0"/><circle cx="1634.9" cy="644.1" r="6.0"/><circle cx="1637.8" cy="645.3" r="6.0"/><circle cx="1640.3" cy="649.0" r="6.0"/><circle cx="1643.4" cy="647.7" r="6.0"/><circle cx="1646.6" cy="644.7" r="6.0"/><circle cx="1649.6" cy="645.3" r="6.0"/><circle cx="1651.5" cy="661.0" r="6.0"/><circle cx="1655.8" cy="642.3" r="6.0"/><circle cx="1657.6" cy="659.7" r="6.0"/><circle cx="1661.7" cy="643.8" r="6.0"/><circle cx="1664.7" cy="644.5" r="6.0"/><circle cx="1667.4" cy="647.9" r="6.0"/><circle cx="1670.4" cy="648.0" r="6.0"/><circle cx="1673.3" cy="649.4" r="6.0"/><circle cx="1676.5" cy="647.0" r="6.0"/><circle cx="1679.4" cy="648.6" r="6.0"/><circle cx="1682.2" cy="652.1" r="6.0"/><circle cx="1685.0" cy="655.0" r="6.0"/><circle cx="1688.2" cy="652.8" r="6.0"/><circle cx="1691.0" cy="655.8" r="6.0"/><circle cx="1694.2" cy="652.0" r="6.0"/><circle cx="1696.6" cy="661.3" r="6.0"/><circle cx="1698.9" cy="638.9" r="6.0"/><circle cx="1703.0" cy="649.8" r="6.0"/><circle cx="1706.3" cy="652.4" r="6.0"/><circle cx="1709.1" cy="650.2" r="6.0"/><circle cx="1712.3" cy="652.1" r="6.0"/><circle cx="1715.3" cy="651.8" r="6.0"/><circle cx="1718.8" cy="656.3" r="6.0"/><circle cx="1721.0" cy="649.0" r="6.0"/><circle cx="1724.0" cy="648.8" r="6.0"/><circle cx="1726.6" cy="644.6" r="6.0"/><circle cx="1730.1" cy="649.4" r="6.0"/><circle cx="1732.9" cy="646.8" r="6.0"/><circle cx="1736.2" cy="649.8" r="6.0"/><circle cx="1738.9" cy="646.5" r="6.0"/><circle cx="1740.9" cy="649.4" r="6.0"/><circle cx="1742.8" cy="645.1" r="6.0"/><circle cx="1747.8" cy="645.3" r="6.0"/><circle cx="1749.7" cy="640.9" r="6.0"/><circle cx="1749.7" cy="633.8" r="6.0"/><circle cx="1757.3" cy="637.9" r="6.0"/><circle cx="1758.6" cy="632.7" r="6.0"/><circle cx="1765.0" cy="633.7" r="6.0"/><circle cx="1768.5" cy="631.5" r="6.0"/><circle cx="1773.0" cy="630.0" r="6.0"/><circle cx="1772.0" cy="623.9" r="6.0"/><circle cx="1773.0" cy="619.5" r="6.0"/><circle cx="1777.6" cy="618.1" r="6.0"/><circle cx="1780.0" cy="614.5" r="6.0"/><circle cx="1775.6" cy="607.3" r="6.0"/><circle cx="1781.5" cy="606.1" r="6.0"/><circle cx="1782.2" cy="601.9" r="6.0"/><circle cx="1789.0" cy="601.2" r="6.0"/><circle cx="1789.1" cy="596.7" r="6.0"/><circle cx="1791.8" cy="593.6" r="6.0"/><circle cx="1795.2" cy="591.0" r="6.0"/><circle cx="1796.0" cy="586.8" r="6.0"/><circle cx="1794.6" cy="568.8" r="6.0"/><circle cx="1799.9" cy="566.1" r="6.0"/><circle cx="1801.3" cy="570.6" r="6.0"/><circle cx="1803.0" cy="547.0" r="6.0"/><circle cx="1806.1" cy="526.7" r="6.0"/><circle cx="1804.5" cy="530.5" r="6.0"/><circle cx="1821.3" cy="527.1" r="6.0"/><circle cx="1809.2" cy="519.9" r="6.0"/><circle cx="1819.5" cy="504.5" r="6.0"/><circle cx="1824.1" cy="499.9" r="6.0"/><circle cx="1817.6" cy="502.2" r="6.0"/><circle cx="1819.4" cy="507.2" r="6.0"/><circle cx="1840.3" cy="464.1" r="6.0"/><circle cx="1836.1" cy="466.9" r="6.0"/><circle cx="1835.7" cy="470.9" r="6.0"/><circle cx="1829.1" cy="459.2" r="6.0"/><circle cx="1840.7" cy="459.7" r="6.0"/><circle cx="1833.7" cy="462.5" r="6.0"/><circle cx="1861.9" cy="425.0" r="6.0"/><circle cx="1858.6" cy="418.8" r="6.0"/><circle cx="1858.5" cy="417.7" r="6.0"/><circle cx="1841.5" cy="409.9" r="6.0"/><circle cx="1852.5" cy="421.8" r="6.0"/><circle cx="1852.8" cy="421.6" r="6.0"/><circle cx="1848.9" cy="421.2" r="6.0"/><circle cx="1856.6" cy="423.2" r="6.0"/><circle cx="1841.1" cy="427.8" r="6.0"/><circle cx="1861.4" cy="420.8" r="6.0"/><circle cx="1860.8" cy="414.2" r="6.0"/><circle cx="1854.0" cy="423.2" r="6.0"/><circle cx="1865.7" cy="384.2" r="6.0"/><circle cx="1863.4" cy="368.3" r="6.0"/><circle cx="1871.9" cy="382.6" r="6.0"/><circle cx="1869.9" cy="367.4" r="6.0"/><circle cx="1880.4" cy="387.3" r="6.0"/><circle cx="1882.9" cy="385.3" r="6.0"/><circle cx="1882.5" cy="373.9" r="6.0"/><circle cx="1887.9" cy="379.8" r="6.0"/><circle cx="1891.4" cy="380.4" r="6.0"/><circle cx="1891.7" cy="371.0" r="6.0"/><circle cx="1899.0" cy="380.4" r="6.0"/><circle cx="1898.6" cy="372.1" r="6.0"/><circle cx="1897.1" cy="361.4" r="6.0"/><circle cx="1903.2" cy="366.7" r="6.0"/><circle cx="1908.0" cy="369.4" r="6.0"/><circle cx="1909.8" cy="365.8" r="6.0"/><circle cx="1912.9" cy="365.5" r="6.0"/><circle cx="1912.7" cy="361.1" r="6.0"/><circle cx="1916.0" cy="359.7" r="6.0"/><circle cx="1921.4" cy="360.1" r="6.0"/><circle cx="1918.8" cy="353.6" r="6.0"/><circle cx="1921.5" cy="351.7" r="6.0"/><circle cx="1927.7" cy="353.8" r="6.0"/><circle cx="1933.2" cy="355.8" r="6.0"/><circle cx="1926.4" cy="341.3" r="6.0"/><circle cx="1935.9" cy="348.8" r="6.0"/><circle cx="1929.7" cy="335.1" r="6.0"/><circle cx="1936.4" cy="342.1" r="6.0"/><circle cx="1939.1" cy="338.8" r="6.0"/><circle cx="1946.0" cy="342.3" r="6.0"/><circle cx="1950.9" cy="342.7" r="6.0"/><circle cx="1948.7" cy="328.8" r="6.0"/><circle cx="1958.2" cy="344.6" r="6.0"/><circle cx="1959.2" cy="334.9" r="6.0"/><circle cx="1958.4" cy="319.9" r="6.0"/></g></g><line x1="1509.4" y1="445.1" x2="1590.8" y2="683" stroke="#000" stroke-width="2.5" /><line x1="1490.6" y1="627.9" x2="1722.2" y2="647.4" stroke="#000" stroke-width="2.5" /><line x1="1573.2" y1="561.6" x2="1573.2" y2="665.5" stroke="#000" stroke-width="5" /><line x1="1494.4" y1="609.9" x2="1546.9" y2="788.9" stroke="#000" stroke-width="2.5" /><line x1="1508.1" y1="764.6" x2="1796.8" y2="776.4" stroke="#000" stroke-width="2.5" /><line x1="1540.2" y1="714.5" x2="1540.2" y2="775" stroke="#000" stroke-width="4.5" /><line x1="1493.1" y1="732.5" x2="1548.2" y2="1019.2" stroke="#000" stroke-width="2.5" /><line x1="1489.4" y1="942.8" x2="1794.8" y2="954.1" stroke="#000" stroke-width="3.5" /><line x1="1535.2" y1="904" x2="1535.2" y2="966.6" stroke="#000" stroke-width="5" /><line x1="1470.6" y1="932.8" x2="1544.4" y2="1158.9" stroke="#000" stroke-width="2.5" /><line x1="1503.1" y1="1112.1" x2="1769.8" y2="1118.9" stroke="#000" stroke-width="3.5" /><line x1="1530.7" y1="1056.3" x2="1530.7" y2="1138.9" stroke="#000" stroke-width="5" /><line x1="1494.4" y1="1148.2" x2="1546.2" y2="1342.4" stroke="#000" stroke-width="2.5" /><line x1="1477.6" y1="1279.1" x2="1786.5" y2="1307.4" stroke="#000" stroke-width="2.5" /><line x1="1532.2" y1="1237.8" x2="1532.2" y2="1301.6" stroke="#000" stroke-width="5" /><line x1="1727.2" y1="680.5" x2="1839.4" y2="545.8" stroke="#000" stroke-width="2.5" /><line x1="1624.6" y1="657.5" x2="1821.1" y2="639.2" stroke="#000" stroke-width="2.5" /><line x1="1752.2" y1="585.4" x2="1749.7" y2="670" stroke="#000" stroke-width="5" /><line x1="1682.1" y1="798.9" x2="1818.6" y2="582.3" stroke="#000" stroke-width="2.5" /><line x1="1602" y1="767.6" x2="1840.4" y2="733.3" stroke="#000" stroke-width="2.5" /><line x1="1711.4" y1="715" x2="1711.4" y2="776.4" stroke="#000" stroke-width="4.5" /><line x1="1697.2" y1="1012.2" x2="1837.4" y2="764.6" stroke="#000" stroke-width="2.5" /><line x1="1590" y1="948" x2="1833.6" y2="949.1" stroke="#000" stroke-width="2.5" /><line x1="1736" y1="877.3" x2="1736" y2="958.4" stroke="#000" stroke-width="5" /><line x1="1663.4" y1="1149.4" x2="1808.6" y2="929" stroke="#000" stroke-width="2.5" /><line x1="1590" y1="1113" x2="1822.3" y2="1114.4" stroke="#000" stroke-width="2.5" /><line x1="1690.1" y1="1064.3" x2="1690.1" y2="1125.1" stroke="#000" stroke-width="5" /><line x1="1687.9" y1="1317.4" x2="1835.4" y2="1124.6" stroke="#000" stroke-width="2.5" /><line x1="1637" y1="1293" x2="1827.8" y2="1292.9" stroke="#000" stroke-width="2.5" /><line x1="1707.4" y1="1240.3" x2="1707.4" y2="1297.9" stroke="#000" stroke-width="5" /><line x1="1642.6" y1="266.5" x2="1640.9" y2="1341" stroke="#000" stroke-width="3" stroke-dasharray="3.2 3.2"/><line x1="2066.9" y1="491" x2="2066.9" y2="569" stroke="#f5e020" stroke-width="4.5" /><line x1="2075.2" y1="660.5" x2="2075.2" y2="740" stroke="#1aa51a" stroke-width="4.5" /><line x1="2084.7" y1="856.5" x2="2084.7" y2="956.6" stroke="#56a3ea" stroke-width="4.5" /><line x1="2066.9" y1="984.2" x2="2066.9" y2="1090.8" stroke="#66ee55" stroke-width="4.5" /><line x1="471" y1="263.5" x2="471" y2="352.8" stroke="#000" stroke-width="4.6" /><line x1="476.1" y1="520.8" x2="476.1" y2="610.6" stroke="#000" stroke-width="4.6" /><line x1="503.7" y1="762.7" x2="503.7" y2="855.3" stroke="#000" stroke-width="4.6" /><line x1="528" y1="978.8" x2="528" y2="1061.3" stroke="#000" stroke-width="4.6" /><line x1="475.6" y1="1250.5" x2="475.6" y2="1330.8" stroke="#000" stroke-width="4.6" /><rect x="31.3" y="2.7" width="2083.1" height="1363.3" fill="none" stroke="#000" stroke-width="4.8"/><line x1="1072.9" y1="2.7" x2="1072.9" y2="1366.0" stroke="#000" stroke-width="4.8" /><line x1="204.9" y1="2.7" x2="204.9" y2="12.7" stroke="#000" stroke-width="5" /><line x1="204.9" y1="1366.0" x2="204.9" y2="1356.0" stroke="#000" stroke-width="5" /><line x1="378.5" y1="2.7" x2="378.5" y2="21.7" stroke="#000" stroke-width="5" /><line x1="378.5" y1="1366.0" x2="378.5" y2="1347.0" stroke="#000" stroke-width="5" /><line x1="552.0999999999999" y1="2.7" x2="552.0999999999999" y2="12.7" stroke="#000" stroke-width="5" /><line x1="552.0999999999999" y1="1366.0" x2="552.0999999999999" y2="1356.0" stroke="#000" stroke-width="5" /><line x1="725.6999999999999" y1="2.7" x2="725.6999999999999" y2="21.7" stroke="#000" stroke-width="5" /><line x1="725.6999999999999" y1="1366.0" x2="725.6999999999999" y2="1347.0" stroke="#000" stroke-width="5" /><line x1="899.3" y1="2.7" x2="899.3" y2="12.7" stroke="#000" stroke-width="5" /><line x1="899.3" y1="1366.0" x2="899.3" y2="1356.0" stroke="#000" stroke-width="5" /><line x1="1167.65" y1="2.7" x2="1167.65" y2="12.7" stroke="#000" stroke-width="5" /><line x1="1167.65" y1="1366.0" x2="1167.65" y2="1356.0" stroke="#000" stroke-width="5" /><line x1="1262.28" y1="2.7" x2="1262.28" y2="21.7" stroke="#000" stroke-width="5" /><line x1="1262.28" y1="1366.0" x2="1262.28" y2="1347.0" stroke="#000" stroke-width="5" /><line x1="1356.9099999999999" y1="2.7" x2="1356.9099999999999" y2="12.7" stroke="#000" stroke-width="5" /><line x1="1356.9099999999999" y1="1366.0" x2="1356.9099999999999" y2="1356.0" stroke="#000" stroke-width="5" /><line x1="1451.54" y1="2.7" x2="1451.54" y2="21.7" stroke="#000" stroke-width="5" /><line x1="1451.54" y1="1366.0" x2="1451.54" y2="1347.0" stroke="#000" stroke-width="5" /><line x1="1546.17" y1="2.7" x2="1546.17" y2="12.7" stroke="#000" stroke-width="5" /><line x1="1546.17" y1="1366.0" x2="1546.17" y2="1356.0" stroke="#000" stroke-width="5" /><line x1="1640.8" y1="2.7" x2="1640.8" y2="21.7" stroke="#000" stroke-width="5" /><line x1="1640.8" y1="1366.0" x2="1640.8" y2="1347.0" stroke="#000" stroke-width="5" /><line x1="1735.4299999999998" y1="2.7" x2="1735.4299999999998" y2="12.7" stroke="#000" stroke-width="5" /><line x1="1735.4299999999998" y1="1366.0" x2="1735.4299999999998" y2="1356.0" stroke="#000" stroke-width="5" /><line x1="1830.06" y1="2.7" x2="1830.06" y2="21.7" stroke="#000" stroke-width="5" /><line x1="1830.06" y1="1366.0" x2="1830.06" y2="1347.0" stroke="#000" stroke-width="5" /><line x1="1924.69" y1="2.7" x2="1924.69" y2="12.7" stroke="#000" stroke-width="5" /><line x1="1924.69" y1="1366.0" x2="1924.69" y2="1356.0" stroke="#000" stroke-width="5" /><line x1="2019.32" y1="2.7" x2="2019.32" y2="21.7" stroke="#000" stroke-width="5" /><line x1="2019.32" y1="1366.0" x2="2019.32" y2="1347.0" stroke="#000" stroke-width="5" /><text x="28.8" y="1419.3" fill="#000" stroke="#000" stroke-width="0.45" text-anchor="end">18</text><text x="376.8" y="1419.3" fill="#000" stroke="#000" stroke-width="0.45" text-anchor="end">17</text><text x="724" y="1419.3" fill="#000" stroke="#000" stroke-width="0.45" text-anchor="end">16</text><text x="1071" y="1419.3" fill="#000" stroke="#000" stroke-width="0.45" text-anchor="end">15</text><text x="1259" y="1419.3" fill="#000" stroke="#000" stroke-width="0.45" text-anchor="middle">4</text><text x="1448.7" y="1419.3" fill="#000" stroke="#000" stroke-width="0.45" text-anchor="middle">2</text><text x="1638.3" y="1419.3" fill="#000" stroke="#000" stroke-width="0.45" text-anchor="middle">0</text><text x="1825.5" y="1419.3" fill="#000" stroke="#000" stroke-width="0.45" text-anchor="middle">-2</text><text x="2014.5" y="1419.3" fill="#000" stroke="#000" stroke-width="0.45" text-anchor="middle">-4</text><text x="887" y="1488.5" fill="#000" stroke="#000" stroke-width="0.45">Binding energy (w.r.t Ef) / eV</text><text x="60.5" y="66.2" fill="#000" stroke="#000" stroke-width="0.45">a)</text><text x="384" y="66.2" fill="#000" stroke="#000" stroke-width="0.45">SECO He(1) 21.22 eV hv</text><text x="59.5" y="257.4" fill="#7d7d14" stroke="#7d7d14" stroke-width="0.45">PBDB-T-SF</text><text x="60.5" y="315.2" fill="#7d7d14" stroke="#7d7d14" stroke-width="0.45">4.49 eV WF</text><text x="59.5" y="507.6" fill="#cdb326" stroke="#cdb326" stroke-width="0.45">IDTTBM</text><text x="60.5" y="565.5" fill="#cdb326" stroke="#cdb326" stroke-width="0.45">4.5 eV WF</text><text x="59.5" y="756.6" fill="#0f7a0f" stroke="#0f7a0f" stroke-width="0.45">O-IDTBR</text><text x="60.5" y="812.8" fill="#0f7a0f" stroke="#0f7a0f" stroke-width="0.45">4.53 eV WF</text><text x="61" y="962.8" fill="#1414c8" stroke="#1414c8" stroke-width="0.45">Y6</text><text x="60.5" y="1015.7" fill="#1414c8" stroke="#1414c8" stroke-width="0.45">4.67 eV WF</text><text x="59.5" y="1247.2" fill="#4cc11c" stroke="#4cc11c" stroke-width="0.45">BT-CIC</text><text x="60.5" y="1296.8" fill="#4cc11c" stroke="#4cc11c" stroke-width="0.45">4.5 eV WF</text><text x="1102" y="65.6" fill="#000" stroke="#000" stroke-width="0.45">b)</text><text x="1443.8" y="65.6" fill="#000" stroke="#000" stroke-width="0.45">UPS</text><text x="1443" y="124.7" fill="#000" stroke="#000" stroke-width="0.45">21.22 eV hv</text><text x="1486.9" y="262.9" fill="#000" stroke="#000" stroke-width="0.45">HOMO</text><text x="1719.7" y="65.6" fill="#000" stroke="#000" stroke-width="0.45">LE-IPES</text><text x="1707.7" y="115.7" fill="#000" stroke="#000" stroke-width="0.45">4.43 eV hv</text><text x="1709.7" y="165.2" fill="#000" stroke="#000" stroke-width="0.45">0 &lt; Ei &lt; 6 eV</text><text x="1622.8" y="204" fill="#000" stroke="#000" stroke-width="0.45">Ef</text><text x="1712.2" y="262.9" fill="#000" stroke="#000" stroke-width="0.45">LUMO</text><text x="1949.5" y="135.2" fill="#000" stroke="#000" stroke-width="0.45">Evac</text><text x="1107.6" y="579.1" fill="#7d7d14" stroke="#7d7d14" stroke-width="0.45">IE -5.3 eV</text><text x="1107.6" y="698" fill="#cdb326" stroke="#cdb326" stroke-width="0.45">IE -5.55 eV</text><text x="1126.3" y="866.5" fill="#0f7a0f" stroke="#0f7a0f" stroke-width="0.45">IE -5.65 eV</text><text x="1195.2" y="1064.6" fill="#1414c8" stroke="#1414c8" stroke-width="0.45">IE -5.8 eV</text><text x="1230.2" y="1223.5" fill="#4cc11c" stroke="#4cc11c" stroke-width="0.45">IE -5.65 eV</text><text x="1592.5" y="588.6" fill="#7d7d14" stroke="#7d7d14" stroke-width="0.45">PBDB-T-SF</text><text x="1548" y="710" fill="#cdb326" stroke="#cdb326" stroke-width="0.45">IDTTBM</text><text x="1550.7" y="876.5" fill="#0f7a0f" stroke="#0f7a0f" stroke-width="0.45">O-IDTBR</text><text x="1613.3" y="1074.6" fill="#1414c8" stroke="#1414c8" stroke-width="0.45">Y6</text><text x="1579.5" y="1233.4" fill="#4cc11c" stroke="#4cc11c" stroke-width="0.45">BT-CIC</text><text x="1841.9" y="578.6" fill="#aaaa1e" stroke="#aaaa1e" stroke-width="0.45">EA -3.2 eV</text><text x="1791" y="698" fill="#f4e436" stroke="#f4e436" stroke-width="0.45">EA -3.8 eV</text><text x="1866.1" y="866.5" fill="#1c9c1c" stroke="#1c9c1c" stroke-width="0.45">EA -3.55 eV</text><text x="1766" y="1064.6" fill="#5aa5e8" stroke="#5aa5e8" stroke-width="0.45">EA -4.1 eV</text><text x="1858.1" y="1223.5" fill="#5ce05c" stroke="#5ce05c" stroke-width="0.45">EA -3.8 eV</text></svg></body></html>
